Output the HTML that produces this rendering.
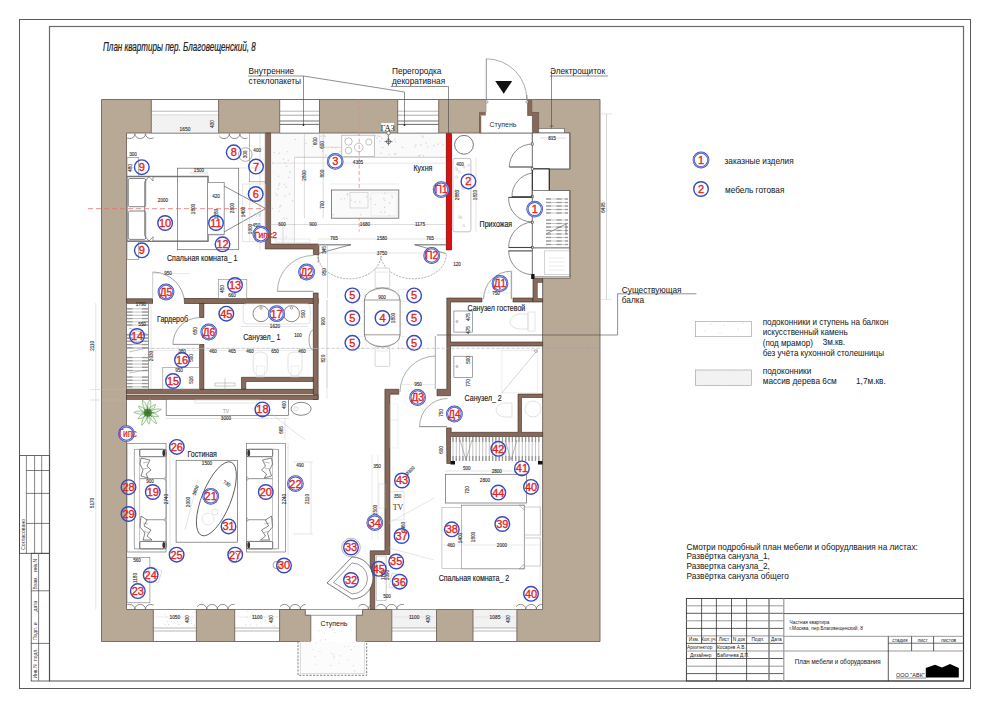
<!DOCTYPE html>
<html><head><meta charset="utf-8"><style>
html,body{margin:0;padding:0;background:#fff;width:990px;height:708px;overflow:hidden}
svg{display:block}
</style></head><body>
<svg width="990" height="708" viewBox="0 0 990 708">
<defs>
<pattern id="hatch" width="2.5" height="2.5" patternUnits="userSpaceOnUse" patternTransform="rotate(45)"><rect width="2.5" height="2.5" fill="#f5f5f5"/><line x1="0" y1="0" x2="0" y2="2.5" stroke="#e2e2e2" stroke-width="0.8"/></pattern>
</defs>
<rect x="19.5" y="19.5" width="951" height="669" fill="none" stroke="#5a5a5a" stroke-width="1" /><rect x="49.5" y="26.5" width="914" height="654.5" fill="none" stroke="#6a6a6a" stroke-width="1.2" /><rect x="19.5" y="455.6" width="30" height="97.7" fill="none" stroke="#444" stroke-width="0.8" /><line x1="26.4" y1="455.6" x2="26.4" y2="553.3" stroke="#555" stroke-width="0.7" /><line x1="34.6" y1="455.6" x2="34.6" y2="553.3" stroke="#555" stroke-width="0.7" /><line x1="41.7" y1="455.6" x2="41.7" y2="553.3" stroke="#555" stroke-width="0.7" /><line x1="26.4" y1="470.5" x2="49.5" y2="470.5" stroke="#444" stroke-width="0.7" /><line x1="26.4" y1="493.4" x2="49.5" y2="493.4" stroke="#444" stroke-width="0.7" /><line x1="26.4" y1="523.4" x2="49.5" y2="523.4" stroke="#444" stroke-width="0.7" /><rect x="31.2" y="553.3" width="18.3" height="127.7" fill="none" stroke="#444" stroke-width="0.8" /><line x1="38.6" y1="553.3" x2="38.6" y2="681" stroke="#777" stroke-width="0.9" /><line x1="31.2" y1="590.8" x2="49.5" y2="590.8" stroke="#444" stroke-width="0.7" /><line x1="31.2" y1="643.4" x2="49.5" y2="643.4" stroke="#444" stroke-width="0.7" /><text x="25" y="550" font-size="5.2" fill="#333" text-anchor="start" font-family="Liberation Sans" transform="rotate(-90 25 550)">Согласовано</text><text x="37" y="678.5" font-size="5" fill="#333" text-anchor="start" font-family="Liberation Sans" transform="rotate(-90 37 678.5)">Инв.N</text><text x="37" y="661" font-size="5" fill="#333" text-anchor="start" font-family="Liberation Sans" transform="rotate(-90 37 661)">подл.</text><text x="37" y="640" font-size="5" fill="#333" text-anchor="start" font-family="Liberation Sans" transform="rotate(-90 37 640)">Подп. и</text><text x="37" y="611.5" font-size="5" fill="#333" text-anchor="start" font-family="Liberation Sans" transform="rotate(-90 37 611.5)">дата</text><text x="37" y="589.5" font-size="5" fill="#333" text-anchor="start" font-family="Liberation Sans" transform="rotate(-90 37 589.5)">Взам.</text><text x="37" y="572" font-size="5" fill="#333" text-anchor="start" font-family="Liberation Sans" transform="rotate(-90 37 572)">инв.N</text><text x="0" y="0" font-size="12.8" fill="#222" text-anchor="start" font-family="Liberation Sans" font-style="italic" stroke="#222" stroke-width="0.25" transform="translate(103 51) scale(0.63 1)">План квартиры пер. Благовещенский, 8</text><rect x="270.6" y="133" width="175.4" height="24.3" fill="#fafafa" stroke="none" stroke-width="0.8" /><rect x="270.6" y="157.3" width="23.9" height="84.7" fill="#fafafa" stroke="none" stroke-width="0.8" /><path d="M101.5,99.5 L600,99.5 L600,641.5 L101.5,641.5 Z M126.5,133 L570.3,133 L570.3,169 L549.5,169 L549.5,190.5 L570.3,190.5 L570.3,278.3 L542.6,278.3 L542.6,609.5 L126.5,609.5 Z" fill="#b8a896" stroke="#6f635a" stroke-width="0.9" fill-rule="evenodd"/><rect x="151.3" y="99.5" width="67.3" height="33.5" fill="#fff" stroke="none" stroke-width="0.8" /><line x1="151.3" y1="111.2" x2="218.6" y2="111.2" stroke="#999" stroke-width="0.7" /><line x1="151.3" y1="115.2" x2="218.6" y2="115.2" stroke="#888" stroke-width="0.7" /><rect x="151.3" y="115.2" width="67.3" height="17.8" fill="url(#hatch)" stroke="none" stroke-width="0.8" /><line x1="151.3" y1="99.5" x2="218.6" y2="99.5" stroke="#666" stroke-width="0.9" /><line x1="151.3" y1="133" x2="218.6" y2="133" stroke="#888" stroke-width="0.7" /><line x1="151.3" y1="99.5" x2="151.3" y2="133" stroke="#6f635a" stroke-width="0.9" /><line x1="218.6" y1="99.5" x2="218.6" y2="133" stroke="#6f635a" stroke-width="0.9" /><text x="185" y="130.5" font-size="4.86" text-anchor="middle" fill="#333" stroke="#333" stroke-width="0.12" font-family="Liberation Sans">1650</text><text x="214" y="124" font-size="4.54" text-anchor="middle" fill="#333" stroke="#333" stroke-width="0.12" font-family="Liberation Sans" transform="rotate(-90 214 124)">430</text><rect x="279.7" y="99.5" width="39.8" height="33.5" fill="#fff" stroke="none" stroke-width="0.8" /><line x1="279.7" y1="111.2" x2="319.5" y2="111.2" stroke="#999" stroke-width="0.7" /><line x1="279.7" y1="115.2" x2="319.5" y2="115.2" stroke="#888" stroke-width="0.7" /><line x1="279.7" y1="121" x2="319.5" y2="121" stroke="#777" stroke-width="1.1" /><line x1="279.7" y1="124.4" x2="319.5" y2="124.4" stroke="#444" stroke-width="0.8" /><line x1="279.7" y1="99.5" x2="319.5" y2="99.5" stroke="#666" stroke-width="0.9" /><line x1="279.7" y1="133" x2="319.5" y2="133" stroke="#888" stroke-width="0.7" /><line x1="279.7" y1="99.5" x2="279.7" y2="133" stroke="#6f635a" stroke-width="0.9" /><line x1="319.5" y1="99.5" x2="319.5" y2="133" stroke="#6f635a" stroke-width="0.9" /><rect x="397.7" y="99.5" width="41" height="33.5" fill="#fff" stroke="none" stroke-width="0.8" /><line x1="397.7" y1="111.2" x2="438.7" y2="111.2" stroke="#999" stroke-width="0.7" /><line x1="397.7" y1="115.2" x2="438.7" y2="115.2" stroke="#888" stroke-width="0.7" /><line x1="397.7" y1="121" x2="438.7" y2="121" stroke="#777" stroke-width="1.1" /><line x1="397.7" y1="124.4" x2="438.7" y2="124.4" stroke="#444" stroke-width="0.8" /><line x1="397.7" y1="99.5" x2="438.7" y2="99.5" stroke="#666" stroke-width="0.9" /><line x1="397.7" y1="133" x2="438.7" y2="133" stroke="#888" stroke-width="0.7" /><line x1="397.7" y1="99.5" x2="397.7" y2="133" stroke="#6f635a" stroke-width="0.9" /><line x1="438.7" y1="99.5" x2="438.7" y2="133" stroke="#6f635a" stroke-width="0.9" /><rect x="153.3" y="609.5" width="43.1" height="32" fill="#fff" stroke="none" stroke-width="0.8" /><circle cx="195.13" cy="612.21" r="0.6" fill="#d5d5d5"/><circle cx="164.99" cy="624.62" r="0.6" fill="#d5d5d5"/><circle cx="191.11" cy="620.06" r="0.6" fill="#d5d5d5"/><circle cx="178.86" cy="624.43" r="0.6" fill="#d5d5d5"/><circle cx="194.4" cy="625.18" r="0.6" fill="#d5d5d5"/><circle cx="187.68" cy="619.18" r="0.6" fill="#d5d5d5"/><circle cx="167.29" cy="621.54" r="0.6" fill="#d5d5d5"/><circle cx="191.3" cy="623.34" r="0.6" fill="#d5d5d5"/><circle cx="188.65" cy="623.85" r="0.6" fill="#d5d5d5"/><circle cx="171.61" cy="621.55" r="0.6" fill="#d5d5d5"/><circle cx="177.63" cy="621.49" r="0.6" fill="#d5d5d5"/><circle cx="164.61" cy="614.46" r="0.6" fill="#d5d5d5"/><circle cx="168.58" cy="624.41" r="0.6" fill="#d5d5d5"/><circle cx="166.49" cy="616.74" r="0.6" fill="#d5d5d5"/><line x1="153.3" y1="609.5" x2="196.4" y2="609.5" stroke="#777" stroke-width="0.7" /><line x1="153.3" y1="628" x2="196.4" y2="628" stroke="#999" stroke-width="0.7" /><line x1="153.3" y1="631" x2="196.4" y2="631" stroke="#999" stroke-width="0.7" /><line x1="153.3" y1="641.5" x2="196.4" y2="641.5" stroke="#666" stroke-width="0.9" /><line x1="153.3" y1="609.5" x2="153.3" y2="641.5" stroke="#6f635a" stroke-width="0.9" /><line x1="196.4" y1="609.5" x2="196.4" y2="641.5" stroke="#6f635a" stroke-width="0.9" /><line x1="155.3" y1="617" x2="194.4" y2="617" stroke="#ccc" stroke-width="0.4" /><text x="174.85" y="618.5" font-size="4.86" text-anchor="middle" fill="#333" stroke="#333" stroke-width="0.12" font-family="Liberation Sans">1050</text><text x="189.4" y="619" font-size="4.54" text-anchor="middle" fill="#333" stroke="#333" stroke-width="0.12" font-family="Liberation Sans" transform="rotate(-90 189.4 619)">430</text><rect x="234.7" y="609.5" width="44.9" height="32" fill="#fff" stroke="none" stroke-width="0.8" /><circle cx="250.37" cy="624.85" r="0.6" fill="#d5d5d5"/><circle cx="272.5" cy="625.77" r="0.6" fill="#d5d5d5"/><circle cx="257.39" cy="618.69" r="0.6" fill="#d5d5d5"/><circle cx="274.54" cy="626.22" r="0.6" fill="#d5d5d5"/><circle cx="277.23" cy="616.55" r="0.6" fill="#d5d5d5"/><circle cx="256.81" cy="625.05" r="0.6" fill="#d5d5d5"/><circle cx="247.07" cy="617.24" r="0.6" fill="#d5d5d5"/><circle cx="265.07" cy="617.22" r="0.6" fill="#d5d5d5"/><circle cx="252.37" cy="615.45" r="0.6" fill="#d5d5d5"/><circle cx="247.89" cy="611.29" r="0.6" fill="#d5d5d5"/><circle cx="251.96" cy="612.78" r="0.6" fill="#d5d5d5"/><circle cx="265.56" cy="620.4" r="0.6" fill="#d5d5d5"/><circle cx="267.83" cy="614.92" r="0.6" fill="#d5d5d5"/><circle cx="245.71" cy="624.65" r="0.6" fill="#d5d5d5"/><line x1="234.7" y1="609.5" x2="279.6" y2="609.5" stroke="#777" stroke-width="0.7" /><line x1="234.7" y1="628" x2="279.6" y2="628" stroke="#999" stroke-width="0.7" /><line x1="234.7" y1="631" x2="279.6" y2="631" stroke="#999" stroke-width="0.7" /><line x1="234.7" y1="641.5" x2="279.6" y2="641.5" stroke="#666" stroke-width="0.9" /><line x1="234.7" y1="609.5" x2="234.7" y2="641.5" stroke="#6f635a" stroke-width="0.9" /><line x1="279.6" y1="609.5" x2="279.6" y2="641.5" stroke="#6f635a" stroke-width="0.9" /><line x1="236.7" y1="617" x2="277.6" y2="617" stroke="#ccc" stroke-width="0.4" /><text x="257.15" y="618.5" font-size="4.86" text-anchor="middle" fill="#333" stroke="#333" stroke-width="0.12" font-family="Liberation Sans">1100</text><text x="272.6" y="619" font-size="4.54" text-anchor="middle" fill="#333" stroke="#333" stroke-width="0.12" font-family="Liberation Sans" transform="rotate(-90 272.6 619)">430</text><rect x="391.8" y="609.5" width="44.7" height="32" fill="#fff" stroke="none" stroke-width="0.8" /><rect x="391.8" y="609.5" width="44.7" height="18.5" fill="url(#hatch)" stroke="none" stroke-width="0.8" /><line x1="391.8" y1="609.5" x2="436.5" y2="609.5" stroke="#777" stroke-width="0.7" /><line x1="391.8" y1="628" x2="436.5" y2="628" stroke="#999" stroke-width="0.7" /><line x1="391.8" y1="631" x2="436.5" y2="631" stroke="#999" stroke-width="0.7" /><line x1="391.8" y1="641.5" x2="436.5" y2="641.5" stroke="#666" stroke-width="0.9" /><line x1="391.8" y1="609.5" x2="391.8" y2="641.5" stroke="#6f635a" stroke-width="0.9" /><line x1="436.5" y1="609.5" x2="436.5" y2="641.5" stroke="#6f635a" stroke-width="0.9" /><line x1="393.8" y1="617" x2="434.5" y2="617" stroke="#ccc" stroke-width="0.4" /><text x="414.15" y="618.5" font-size="4.86" text-anchor="middle" fill="#333" stroke="#333" stroke-width="0.12" font-family="Liberation Sans">1100</text><text x="429.5" y="619" font-size="4.54" text-anchor="middle" fill="#333" stroke="#333" stroke-width="0.12" font-family="Liberation Sans" transform="rotate(-90 429.5 619)">430</text><rect x="473" y="609.5" width="43.9" height="32" fill="#fff" stroke="none" stroke-width="0.8" /><rect x="473" y="609.5" width="43.9" height="18.5" fill="url(#hatch)" stroke="none" stroke-width="0.8" /><line x1="473" y1="609.5" x2="516.9" y2="609.5" stroke="#777" stroke-width="0.7" /><line x1="473" y1="628" x2="516.9" y2="628" stroke="#999" stroke-width="0.7" /><line x1="473" y1="631" x2="516.9" y2="631" stroke="#999" stroke-width="0.7" /><line x1="473" y1="641.5" x2="516.9" y2="641.5" stroke="#666" stroke-width="0.9" /><line x1="473" y1="609.5" x2="473" y2="641.5" stroke="#6f635a" stroke-width="0.9" /><line x1="516.9" y1="609.5" x2="516.9" y2="641.5" stroke="#6f635a" stroke-width="0.9" /><line x1="475" y1="617" x2="514.9" y2="617" stroke="#ccc" stroke-width="0.4" /><text x="494.95" y="618.5" font-size="4.86" text-anchor="middle" fill="#333" stroke="#333" stroke-width="0.12" font-family="Liberation Sans">1085</text><text x="509.9" y="619" font-size="4.54" text-anchor="middle" fill="#333" stroke="#333" stroke-width="0.12" font-family="Liberation Sans" transform="rotate(-90 509.9 619)">430</text><rect x="305.3" y="608.9" width="57.2" height="6.4" fill="#fff" stroke="none" stroke-width="0.8" /><rect x="310.8" y="608.9" width="45.5" height="33.6" fill="#fff" stroke="none" stroke-width="0.8" /><path d="M279.7,609.5 L305.3,609.5 L305.3,615.3 L310.8,615.3 L310.8,641.5" fill="none" stroke="#6f635a" stroke-width="0.9" /><path d="M362.5,609.5 L362.5,615.3 L356.3,615.3 L356.3,641.5" fill="none" stroke="#6f635a" stroke-width="0.9" /><line x1="305.3" y1="609.5" x2="362.5" y2="609.5" stroke="#777" stroke-width="0.7" /><line x1="305.3" y1="615.3" x2="362.5" y2="615.3" stroke="#777" stroke-width="0.7" /><text x="334" y="625.5" font-size="7" text-anchor="middle" fill="#222" font-family="Liberation Sans" >Ступень</text><rect x="298" y="641.5" width="68.7" height="33.8" fill="#fcfcfc" stroke="#666" stroke-width="0.8" stroke-dasharray="2.2,1.3"/><rect x="300.5" y="641.5" width="63.7" height="31.8" fill="none" stroke="#bbb" stroke-width="0.5" /><circle cx="331.45" cy="653.51" r="0.55" fill="#d0d0d0"/><circle cx="351.74" cy="649.56" r="0.55" fill="#d0d0d0"/><circle cx="333.84" cy="654.67" r="0.55" fill="#d0d0d0"/><circle cx="319.94" cy="651.5" r="0.55" fill="#d0d0d0"/><circle cx="339.08" cy="663.31" r="0.55" fill="#d0d0d0"/><circle cx="316.05" cy="642.74" r="0.55" fill="#d0d0d0"/><circle cx="315.9" cy="664.01" r="0.55" fill="#d0d0d0"/><circle cx="341.82" cy="631.76" r="0.55" fill="#d0d0d0"/><circle cx="354.23" cy="670.52" r="0.55" fill="#d0d0d0"/><circle cx="340.12" cy="655.85" r="0.55" fill="#d0d0d0"/><circle cx="318.77" cy="630.63" r="0.55" fill="#d0d0d0"/><circle cx="334.72" cy="632.5" r="0.55" fill="#d0d0d0"/><circle cx="320.18" cy="640.16" r="0.55" fill="#d0d0d0"/><circle cx="313.29" cy="649.49" r="0.55" fill="#d0d0d0"/><circle cx="330.94" cy="665.38" r="0.55" fill="#d0d0d0"/><circle cx="334.32" cy="656.89" r="0.55" fill="#d0d0d0"/><circle cx="333.49" cy="657.82" r="0.55" fill="#d0d0d0"/><circle cx="331.67" cy="641.68" r="0.55" fill="#d0d0d0"/><circle cx="354.9" cy="671.82" r="0.55" fill="#d0d0d0"/><circle cx="348.13" cy="659.73" r="0.55" fill="#d0d0d0"/><circle cx="325.56" cy="639.65" r="0.55" fill="#d0d0d0"/><circle cx="324.43" cy="632.95" r="0.55" fill="#d0d0d0"/><circle cx="344.95" cy="646.82" r="0.55" fill="#d0d0d0"/><circle cx="348.4" cy="646.23" r="0.55" fill="#d0d0d0"/><circle cx="353.2" cy="665.59" r="0.55" fill="#d0d0d0"/><circle cx="312.02" cy="638.81" r="0.55" fill="#d0d0d0"/><circle cx="351.14" cy="649.74" r="0.55" fill="#d0d0d0"/><circle cx="354.16" cy="646.69" r="0.55" fill="#d0d0d0"/><circle cx="315.14" cy="656.44" r="0.55" fill="#d0d0d0"/><circle cx="345.48" cy="641.33" r="0.55" fill="#d0d0d0"/><line x1="310.8" y1="641.5" x2="356.3" y2="641.5" stroke="#fff" stroke-width="1.2" /><rect x="479.5" y="98.9" width="59.1" height="34.4" fill="#fff" stroke="none" stroke-width="0.8" /><path d="M479.5,133 L479.5,111.8 L485.8,111.8 L485.8,99.5" fill="none" stroke="#6f635a" stroke-width="0.9" /><rect x="479.5" y="111.8" width="6.3" height="3.7" fill="#86695a" stroke="none" stroke-width="0.8" /><rect x="479.5" y="115.5" width="1.7" height="17.5" fill="#86695a" stroke="none" stroke-width="0.8" /><rect x="479" y="99.5" width="6.8" height="12.3" fill="#b8a896" stroke="none" stroke-width="0.8" /><line x1="479.5" y1="115.5" x2="479.5" y2="133" stroke="#6f635a" stroke-width="0.8" /><line x1="479" y1="99.5" x2="485.8" y2="99.5" stroke="#6f635a" stroke-width="0.9" /><polygon points="527.6,99.5 532.4,99.5 532.4,111.8 538.6,111.8 538.6,133 536.4,133 536.4,143.3 532.4,143.3 532.4,115.5 527.6,115.5" fill="#86695a" stroke="#3d2c22" stroke-width="0.5" /><rect x="532.4" y="99.5" width="6.6" height="12.3" fill="#b8a896" stroke="none" stroke-width="0.8" /><line x1="532.4" y1="99.5" x2="539" y2="99.5" stroke="#6f635a" stroke-width="0.9" /><line x1="485.8" y1="99.5" x2="527.6" y2="99.5" stroke="#555" stroke-width="0.8" /><line x1="479.5" y1="133" x2="532.4" y2="133" stroke="#666" stroke-width="0.8" /><text x="503" y="127" font-size="7" text-anchor="middle" fill="#333" font-family="Liberation Sans" >Ступень</text><line x1="486.3" y1="99" x2="486.3" y2="58.8" stroke="#666" stroke-width="0.7" /><path d="M486.3,58.8 A40.5,40.5 0 0 1 526.8,99.3" fill="none" stroke="#777" stroke-width="0.6" /><line x1="527" y1="99" x2="527" y2="95" stroke="#666" stroke-width="0.6" /><polygon points="495.2,81 512.2,81 503.7,93.8" fill="#111" stroke="none" stroke-width="0.8" /><circle cx="486.8" cy="102" r="1.2" fill="#fff" stroke="#555" stroke-width="0.5"/><circle cx="527" cy="102" r="1.2" fill="#fff" stroke="#555" stroke-width="0.5"/><rect x="538.8" y="128.5" width="25.5" height="4.5" fill="#fff" stroke="#555" stroke-width="0.6" /><line x1="551.5" y1="70" x2="551.5" y2="128.5" stroke="#444" stroke-width="0.6" /><line x1="549.5" y1="126" x2="553.5" y2="126" stroke="#444" stroke-width="0.6" /><polygon points="265.3,133 270.6,133 270.6,244 318.9,244 318.9,254.7 313.4,254.7 313.4,249 265.3,249" fill="#86695a" stroke="#3d2c22" stroke-width="0.6" /><rect x="446.2" y="133.7" width="5.4" height="116.2" fill="#dd1010" stroke="#5a0000" stroke-width="0.6" /><rect x="126.5" y="298.8" width="26.2" height="4.5" fill="#86695a" stroke="#3d2c22" stroke-width="0.6" /><rect x="184.6" y="298.3" width="133.5" height="5.3" fill="#86695a" stroke="#3d2c22" stroke-width="0.6" /><rect x="313.2" y="293" width="4.9" height="106.3" fill="#86695a" stroke="#3d2c22" stroke-width="0.6" /><rect x="126.5" y="389.2" width="186.7" height="5" fill="#86695a" stroke="#3d2c22" stroke-width="0.6" /><rect x="126.5" y="395" width="191.6" height="4.3" fill="#86695a" stroke="#3d2c22" stroke-width="0.6" /><rect x="126.5" y="394.2" width="186.7" height="0.8" fill="#e8e0d8" stroke="none" stroke-width="0.8" /><rect x="199.7" y="344.4" width="4.2" height="44.8" fill="#86695a" stroke="#3d2c22" stroke-width="0.6" /><polygon points="241.5,377.3 313.2,377.3 313.2,381.5 245.8,381.5 245.8,389.2 241.5,389.2" fill="#86695a" stroke="#3d2c22" stroke-width="0.6" /><rect x="199.7" y="303.3" width="4.2" height="14.3" fill="#86695a" stroke="#3d2c22" stroke-width="0.6" /><polygon points="384.9,389.3 398.8,389.3 398.8,394.2 389.9,394.2 389.9,554.5 374.8,554.5 374.8,609.5 370.2,609.5 370.2,550.8 384.9,550.8" fill="#86695a" stroke="#3d2c22" stroke-width="0.6" /><polygon points="446.8,298 482,298 482,302 450.5,302 450.5,342 542.6,342 542.6,346 450.5,346 450.5,395.7 437,395.7 437,389.3 446.8,389.3" fill="#86695a" stroke="#3d2c22" stroke-width="0.6" /><rect x="513" y="298" width="20" height="4" fill="#86695a" stroke="#3d2c22" stroke-width="0.6" /><polygon points="533,278.3 542.6,278.3 542.6,302 533,302" fill="#86695a" stroke="#3d2c22" stroke-width="0.6" /><rect x="537.5" y="282.7" width="4.9" height="15.5" fill="#fff" stroke="#555" stroke-width="0.4" /><polygon points="446.5,427.9 451.2,427.9 451.2,432.3 518,432.3 518,394 542.6,394 542.6,397.5 521.5,397.5 521.5,432.3 542.6,432.3 542.6,436.5 450.5,436.5 450.5,463.5 446.8,463.5" fill="#86695a" stroke="#3d2c22" stroke-width="0.6" /><clipPath id="cw201"><rect x="127" y="126.2" width="26.6" height="20"/></clipPath><path d="M113.7,133.8 A5.3,4.8 0 0 0 124.3,133.8 M124.3,133.8 A5.3,4.8 0 0 0 134.9,133.8 M134.9,133.8 A5.3,4.8 0 0 0 145.5,133.8 M145.5,133.8 A5.3,4.8 0 0 0 156.1,133.8 " fill="none" stroke="#555" stroke-width="0.65" clip-path="url(#cw201)"/><clipPath id="cw203"><rect x="219.5" y="126.2" width="28" height="20"/></clipPath><path d="M208.1,133.8 A5.3,4.8 0 0 0 218.7,133.8 M218.7,133.8 A5.3,4.8 0 0 0 229.3,133.8 M229.3,133.8 A5.3,4.8 0 0 0 239.9,133.8 M239.9,133.8 A5.3,4.8 0 0 0 250.5,133.8 " fill="none" stroke="#555" stroke-width="0.65" clip-path="url(#cw203)"/><rect x="126.9" y="176.5" width="81.1" height="64.7" fill="#fff" stroke="#777" stroke-width="1.5" /><rect x="128.3" y="178.5" width="17.4" height="28.2" fill="#fff" stroke="#666" stroke-width="0.8" rx="1.5"/><rect x="128.3" y="211" width="17.4" height="28.4" fill="#fff" stroke="#666" stroke-width="0.8" rx="1.5"/><polyline points="149,176.5 144.7,182 144.7,235.7 149,241.2" fill="none" stroke="#555" stroke-width="0.7" /><polygon points="149,176.5 153,176.5 153,181" fill="#fff" stroke="#555" stroke-width="0.6" /><polygon points="149,241.2 153,241.2 153,236.7" fill="#fff" stroke="#555" stroke-width="0.6" /><rect x="177.4" y="168.2" width="61.3" height="81.5" fill="none" stroke="#666" stroke-width="0.7" /><rect x="207.6" y="182.4" width="16.6" height="52.2" fill="#fff" stroke="#888" stroke-width="0.8" /><line x1="207.6" y1="234.6" x2="224.2" y2="234.6" stroke="#999" stroke-width="1.4" /><polyline points="224,186 265.7,208.6 224,232" fill="none" stroke="#555" stroke-width="0.7" /><rect x="127" y="157.7" width="11.8" height="18.8" fill="none" stroke="#777" stroke-width="0.6" /><rect x="127" y="241.2" width="11.8" height="18.3" fill="none" stroke="#777" stroke-width="0.6" /><rect x="249.5" y="133" width="15.8" height="48.8" fill="none" stroke="#888" stroke-width="0.6" /><rect x="242.8" y="184" width="22.5" height="57.8" fill="none" stroke="#ccc" stroke-width="0.5" /><line x1="249.6" y1="184" x2="249.6" y2="241.8" stroke="#ccc" stroke-width="0.5" /><text x="258" y="217" font-size="4.5" text-anchor="middle" fill="#bbb" font-family="Liberation Sans" >TV</text><circle cx="245.3" cy="154.5" r="6.8" fill="none" stroke="#777" stroke-width="0.6"/><line x1="88" y1="208.7" x2="265.3" y2="208.7" stroke="#e07070" stroke-width="0.8" stroke-dasharray="5,3"/><line x1="190" y1="173" x2="208" y2="173" stroke="#9a9a9a" stroke-width="0.4" /><text x="199" y="172" font-size="4.64" text-anchor="middle" fill="#333" stroke="#333" stroke-width="0.12" font-family="Liberation Sans">1500</text><text x="163" y="202" font-size="4.64" text-anchor="middle" fill="#333" stroke="#333" stroke-width="0.12" font-family="Liberation Sans">2000</text><text x="216" y="198" font-size="4.64" text-anchor="middle" fill="#333" stroke="#333" stroke-width="0.12" font-family="Liberation Sans">420</text><text x="195" y="209" font-size="4.64" text-anchor="middle" fill="#333" stroke="#333" stroke-width="0.12" font-family="Liberation Sans" transform="rotate(-90 195 209)">1800</text><text x="218" y="214" font-size="4.64" text-anchor="middle" fill="#333" stroke="#333" stroke-width="0.12" font-family="Liberation Sans" transform="rotate(-90 218 214)">1280</text><text x="234" y="208" font-size="4.64" text-anchor="middle" fill="#333" stroke="#333" stroke-width="0.12" font-family="Liberation Sans" transform="rotate(-90 234 208)">2800</text><text x="245" y="212" font-size="4.64" text-anchor="middle" fill="#333" stroke="#333" stroke-width="0.12" font-family="Liberation Sans" transform="rotate(-90 245 212)">1400</text><text x="133" y="156" font-size="4.64" text-anchor="middle" fill="#333" stroke="#333" stroke-width="0.12" font-family="Liberation Sans">300</text><text x="132" y="168" font-size="4.64" text-anchor="middle" fill="#333" stroke="#333" stroke-width="0.12" font-family="Liberation Sans" transform="rotate(-90 132 168)">480</text><text x="257.2" y="152" font-size="4.64" text-anchor="middle" fill="#333" stroke="#333" stroke-width="0.12" font-family="Liberation Sans">400</text><text x="246.5" y="154.5" font-size="4.64" text-anchor="middle" fill="#333" stroke="#333" stroke-width="0.12" font-family="Liberation Sans" transform="rotate(-90 246.5 154.5)">300</text><text x="256.4" y="226.5" font-size="4.64" text-anchor="middle" fill="#333" stroke="#333" stroke-width="0.12" font-family="Liberation Sans">450</text><text x="252" y="229" font-size="4.64" text-anchor="middle" fill="#333" stroke="#333" stroke-width="0.12" font-family="Liberation Sans" transform="rotate(-90 252 229)">1000</text><line x1="238.7" y1="168" x2="258" y2="168" stroke="#9a9a9a" stroke-width="0.3" /><line x1="260" y1="133" x2="260" y2="250" stroke="#9a9a9a" stroke-width="0.3" /><text x="0" y="0" font-size="8.2" fill="#222" text-anchor="start" font-family="Liberation Sans"  stroke="#222" stroke-width="0.15" transform="translate(167 260.5) scale(0.86 1)">Спальная комната_ 1</text><circle cx="141.8" cy="167.2" r="7.3" fill="none" stroke="#3449c2" stroke-width="1.4"/><text x="141.8" y="171.16" font-size="11" text-anchor="middle" fill="#e52222" stroke="#e52222" stroke-width="0.35" font-family="Liberation Sans">9</text><circle cx="233.7" cy="152.3" r="7.3" fill="none" stroke="#3449c2" stroke-width="1.4"/><text x="233.7" y="156.26" font-size="11" text-anchor="middle" fill="#e52222" stroke="#e52222" stroke-width="0.35" font-family="Liberation Sans">8</text><circle cx="256" cy="166.6" r="7.3" fill="none" stroke="#3449c2" stroke-width="1.4"/><text x="256" y="170.56" font-size="11" text-anchor="middle" fill="#e52222" stroke="#e52222" stroke-width="0.35" font-family="Liberation Sans">7</text><circle cx="255.7" cy="194" r="7.3" fill="none" stroke="#3449c2" stroke-width="1.4"/><text x="255.7" y="197.96" font-size="11" text-anchor="middle" fill="#e52222" stroke="#e52222" stroke-width="0.35" font-family="Liberation Sans">6</text><circle cx="165.1" cy="223" r="7.3" fill="none" stroke="#3449c2" stroke-width="1.4"/><text x="165.1" y="226.96" font-size="11" text-anchor="middle" fill="#e52222" stroke="#e52222" stroke-width="0.35" font-family="Liberation Sans">10</text><circle cx="216" cy="223" r="7.3" fill="none" stroke="#3449c2" stroke-width="1.4"/><text x="216" y="226.96" font-size="11" text-anchor="middle" fill="#e52222" stroke="#e52222" stroke-width="0.35" font-family="Liberation Sans">11</text><circle cx="222.5" cy="244.3" r="7.3" fill="none" stroke="#3449c2" stroke-width="1.4"/><text x="222.5" y="248.26" font-size="11" text-anchor="middle" fill="#e52222" stroke="#e52222" stroke-width="0.35" font-family="Liberation Sans">12</text><circle cx="141.8" cy="250.3" r="7.3" fill="none" stroke="#3449c2" stroke-width="1.4"/><text x="141.8" y="254.26" font-size="11" text-anchor="middle" fill="#e52222" stroke="#e52222" stroke-width="0.35" font-family="Liberation Sans">9</text><circle cx="260.9" cy="234.2" r="7.3" fill="#fff" stroke="#3449c2" stroke-width="2.2"/><circle cx="260.9" cy="234.2" r="7.3" fill="none" stroke="#fff" stroke-width="0.5"/><text x="260.9" y="238.16" font-size="11" text-anchor="middle" fill="#e52222" stroke="#e52222" stroke-width="0.35" font-family="Liberation Sans"></text><text x="254.4" y="237.6" font-size="8.8" fill="#e52222" stroke="#e52222" stroke-width="0.3" font-family="Liberation Sans" transform="translate(254.4 237.6) scale(0.97 1) translate(-254.4 -237.6)">Гипс2</text><circle cx="312.93" cy="146.43" r="0.8" fill="#d8d8d8"/><circle cx="335.63" cy="147.68" r="0.8" fill="#d8d8d8"/><circle cx="379.62" cy="136.38" r="0.8" fill="#d8d8d8"/><circle cx="274.26" cy="152.59" r="0.8" fill="#d8d8d8"/><circle cx="316.61" cy="139.92" r="0.8" fill="#d8d8d8"/><circle cx="443.25" cy="144.88" r="0.8" fill="#d8d8d8"/><circle cx="415.87" cy="145" r="0.8" fill="#d8d8d8"/><circle cx="381.92" cy="138.16" r="0.8" fill="#d8d8d8"/><circle cx="381.2" cy="153.23" r="0.8" fill="#d8d8d8"/><circle cx="361.99" cy="150.57" r="0.8" fill="#d8d8d8"/><circle cx="387.48" cy="136.34" r="0.8" fill="#d8d8d8"/><circle cx="402.42" cy="147.41" r="0.8" fill="#d8d8d8"/><circle cx="323.82" cy="135.65" r="0.8" fill="#d8d8d8"/><circle cx="420.87" cy="144.93" r="0.8" fill="#d8d8d8"/><circle cx="395.64" cy="153.46" r="0.8" fill="#d8d8d8"/><circle cx="394.83" cy="154.34" r="0.8" fill="#d8d8d8"/><circle cx="339.93" cy="151.82" r="0.8" fill="#d8d8d8"/><circle cx="348.47" cy="154.65" r="0.8" fill="#d8d8d8"/><circle cx="423.17" cy="137.05" r="0.8" fill="#d8d8d8"/><circle cx="295.39" cy="139.56" r="0.8" fill="#d8d8d8"/><circle cx="438.06" cy="144.16" r="0.8" fill="#d8d8d8"/><circle cx="379.78" cy="141.32" r="0.8" fill="#d8d8d8"/><circle cx="359.25" cy="143.1" r="0.8" fill="#d8d8d8"/><circle cx="332.36" cy="147.29" r="0.8" fill="#d8d8d8"/><circle cx="372.49" cy="153.99" r="0.8" fill="#d8d8d8"/><circle cx="389.3" cy="154.51" r="0.8" fill="#d8d8d8"/><circle cx="419.3" cy="155.81" r="0.8" fill="#d8d8d8"/><circle cx="387.46" cy="138.43" r="0.8" fill="#d8d8d8"/><circle cx="420.03" cy="155.26" r="0.8" fill="#d8d8d8"/><circle cx="427.61" cy="146.95" r="0.8" fill="#d8d8d8"/><circle cx="394.78" cy="139.43" r="0.8" fill="#d8d8d8"/><circle cx="415.04" cy="147.04" r="0.8" fill="#d8d8d8"/><circle cx="321.01" cy="136.33" r="0.8" fill="#d8d8d8"/><circle cx="418.88" cy="155.79" r="0.8" fill="#d8d8d8"/><circle cx="287.23" cy="151.81" r="0.8" fill="#d8d8d8"/><circle cx="342.6" cy="138.17" r="0.8" fill="#d8d8d8"/><circle cx="322.55" cy="151.14" r="0.8" fill="#d8d8d8"/><circle cx="422.12" cy="135.93" r="0.8" fill="#d8d8d8"/><circle cx="377.7" cy="135.94" r="0.8" fill="#d8d8d8"/><circle cx="395.57" cy="141.95" r="0.8" fill="#d8d8d8"/><circle cx="423.52" cy="155.59" r="0.8" fill="#d8d8d8"/><circle cx="358.93" cy="155.97" r="0.8" fill="#d8d8d8"/><circle cx="325.26" cy="136.62" r="0.8" fill="#d8d8d8"/><circle cx="375.16" cy="135.66" r="0.8" fill="#d8d8d8"/><circle cx="305.95" cy="143.57" r="0.8" fill="#d8d8d8"/><circle cx="377" cy="138.28" r="0.8" fill="#d8d8d8"/><circle cx="279.3" cy="153.22" r="0.8" fill="#d8d8d8"/><circle cx="325.98" cy="155.13" r="0.8" fill="#d8d8d8"/><circle cx="426.23" cy="142.93" r="0.8" fill="#d8d8d8"/><circle cx="351.19" cy="145.92" r="0.8" fill="#d8d8d8"/><circle cx="382.75" cy="147.51" r="0.8" fill="#d8d8d8"/><circle cx="368.19" cy="148.02" r="0.8" fill="#d8d8d8"/><circle cx="433.79" cy="145.65" r="0.8" fill="#d8d8d8"/><circle cx="346.16" cy="150.13" r="0.8" fill="#d8d8d8"/><circle cx="312.87" cy="141.32" r="0.8" fill="#d8d8d8"/><circle cx="292.53" cy="200.73" r="0.8" fill="#d8d8d8"/><circle cx="283.52" cy="158.94" r="0.8" fill="#d8d8d8"/><circle cx="280.72" cy="205.56" r="0.8" fill="#d8d8d8"/><circle cx="272.42" cy="208.5" r="0.8" fill="#d8d8d8"/><circle cx="285.28" cy="162.93" r="0.8" fill="#d8d8d8"/><circle cx="285.17" cy="196.23" r="0.8" fill="#d8d8d8"/><circle cx="286.26" cy="186.91" r="0.8" fill="#d8d8d8"/><circle cx="286.85" cy="218.52" r="0.8" fill="#d8d8d8"/><circle cx="272.47" cy="162.97" r="0.8" fill="#d8d8d8"/><circle cx="286.2" cy="236.99" r="0.8" fill="#d8d8d8"/><circle cx="277.27" cy="195.42" r="0.8" fill="#d8d8d8"/><circle cx="284.45" cy="184.24" r="0.8" fill="#d8d8d8"/><circle cx="279.64" cy="183.64" r="0.8" fill="#d8d8d8"/><circle cx="279.75" cy="206.84" r="0.8" fill="#d8d8d8"/><circle cx="278.31" cy="188.93" r="0.8" fill="#d8d8d8"/><circle cx="288.22" cy="160.21" r="0.8" fill="#d8d8d8"/><circle cx="283.95" cy="218.28" r="0.8" fill="#d8d8d8"/><circle cx="278.51" cy="176.25" r="0.8" fill="#d8d8d8"/><circle cx="288.88" cy="177.57" r="0.8" fill="#d8d8d8"/><circle cx="275.94" cy="193.69" r="0.8" fill="#d8d8d8"/><circle cx="286.66" cy="166.35" r="0.8" fill="#d8d8d8"/><circle cx="278.76" cy="185.37" r="0.8" fill="#d8d8d8"/><circle cx="289.5" cy="193.95" r="0.8" fill="#d8d8d8"/><circle cx="289.97" cy="171.88" r="0.8" fill="#d8d8d8"/><circle cx="279.07" cy="211.32" r="0.8" fill="#d8d8d8"/><line x1="294.5" y1="157.3" x2="446" y2="157.3" stroke="#aaa" stroke-width="0.6" /><line x1="294.5" y1="157.3" x2="294.5" y2="242" stroke="#bbb" stroke-width="0.5" /><line x1="270.6" y1="163.2" x2="446" y2="163.2" stroke="#ccc" stroke-width="0.5" /><line x1="319.5" y1="133" x2="319.5" y2="147.3" stroke="#bbb" stroke-width="0.5" /><line x1="319.5" y1="147.3" x2="342.6" y2="147.3" stroke="#bbb" stroke-width="0.5" /><rect x="341.8" y="135.2" width="32.7" height="21.2" fill="#fff" stroke="#aaa" stroke-width="0.7" /><circle cx="348.5" cy="141.5" r="3.7" fill="none" stroke="#999" stroke-width="0.6"/><circle cx="348.5" cy="150.5" r="3.3" fill="none" stroke="#999" stroke-width="0.6"/><circle cx="358.8" cy="147.5" r="4.3" fill="none" stroke="#999" stroke-width="0.6"/><circle cx="368.8" cy="142" r="3.1" fill="none" stroke="#999" stroke-width="0.6"/><line x1="359.2" y1="99.5" x2="359.2" y2="231.6" stroke="#e88" stroke-width="0.8" stroke-dasharray="4,2.5"/><rect x="381.2" y="123" width="12.8" height="8" fill="#fff" stroke="#ddd" stroke-width="0.3" /><text x="387.6" y="130.5" font-size="8.5" text-anchor="middle" fill="#111" font-family="Liberation Serif" >ГАЗ</text><circle cx="388.5" cy="133" r="1.8" fill="#fff" stroke="#333" stroke-width="0.6"/><line x1="388.5" y1="135" x2="388.5" y2="138.5" stroke="#333" stroke-width="0.5" /><circle cx="388.5" cy="141.6" r="2.1" fill="#fff" stroke="#333" stroke-width="0.6"/><line x1="384.5" y1="141.6" x2="392.5" y2="141.6" stroke="#333" stroke-width="0.6" /><line x1="388.5" y1="137.8" x2="388.5" y2="145.4" stroke="#333" stroke-width="0.6" /><rect x="331.4" y="190" width="67.4" height="28.2" fill="#fafafa" stroke="#666" stroke-width="0.8" /><circle cx="389.63" cy="202.83" r="0.8" fill="#d8d8d8"/><circle cx="347.4" cy="194.9" r="0.8" fill="#d8d8d8"/><circle cx="366.9" cy="196.58" r="0.8" fill="#d8d8d8"/><circle cx="384.63" cy="212.12" r="0.8" fill="#d8d8d8"/><circle cx="344.75" cy="198.69" r="0.8" fill="#d8d8d8"/><circle cx="384.66" cy="207.41" r="0.8" fill="#d8d8d8"/><circle cx="384.6" cy="200.29" r="0.8" fill="#d8d8d8"/><circle cx="341.3" cy="199.01" r="0.8" fill="#d8d8d8"/><circle cx="383.81" cy="198.51" r="0.8" fill="#d8d8d8"/><circle cx="355.17" cy="202.01" r="0.8" fill="#d8d8d8"/><circle cx="359.87" cy="201.83" r="0.8" fill="#d8d8d8"/><circle cx="391.92" cy="195.74" r="0.8" fill="#d8d8d8"/><circle cx="333.3" cy="214.64" r="0.8" fill="#d8d8d8"/><circle cx="389.32" cy="215.69" r="0.8" fill="#d8d8d8"/><circle cx="360.8" cy="214.8" r="0.8" fill="#d8d8d8"/><circle cx="392.35" cy="197.33" r="0.8" fill="#d8d8d8"/><circle cx="380.71" cy="212.08" r="0.8" fill="#d8d8d8"/><circle cx="375.43" cy="204.46" r="0.8" fill="#d8d8d8"/><circle cx="351.5" cy="200.19" r="0.8" fill="#d8d8d8"/><circle cx="347.56" cy="193.63" r="0.8" fill="#d8d8d8"/><circle cx="370.68" cy="198.89" r="0.8" fill="#d8d8d8"/><circle cx="384.85" cy="193.08" r="0.8" fill="#d8d8d8"/><rect x="350" y="192.5" width="18" height="15.5" fill="none" stroke="#bbb" stroke-width="0.5" /><rect x="371" y="193" width="26" height="23" fill="none" stroke="#ddd" stroke-width="0.5" /><line x1="330" y1="184" x2="398.8" y2="184" stroke="#ccc" stroke-width="0.4" /><line x1="304.4" y1="133" x2="304.4" y2="218.5" stroke="#aaa" stroke-width="0.4" /><line x1="323.2" y1="133" x2="323.2" y2="218.5" stroke="#aaa" stroke-width="0.4" /><text x="317" y="141.4" font-size="4.64" text-anchor="middle" fill="#333" stroke="#333" stroke-width="0.12" font-family="Liberation Sans" transform="rotate(-90 317 141.4)">600</text><text x="324.4" y="145" font-size="4.64" text-anchor="middle" fill="#333" stroke="#333" stroke-width="0.12" font-family="Liberation Sans" transform="rotate(-90 324.4 145)">600</text><text x="305.6" y="175.5" font-size="4.64" text-anchor="middle" fill="#333" stroke="#333" stroke-width="0.12" font-family="Liberation Sans" transform="rotate(-90 305.6 175.5)">2800</text><text x="324.4" y="173.6" font-size="4.64" text-anchor="middle" fill="#333" stroke="#333" stroke-width="0.12" font-family="Liberation Sans" transform="rotate(-90 324.4 173.6)">800</text><text x="324.4" y="205" font-size="4.64" text-anchor="middle" fill="#333" stroke="#333" stroke-width="0.12" font-family="Liberation Sans" transform="rotate(-90 324.4 205)">700</text><text x="358" y="164" font-size="4.64" text-anchor="middle" fill="#333" stroke="#333" stroke-width="0.12" font-family="Liberation Sans">4305</text><line x1="270.6" y1="224.5" x2="446" y2="224.5" stroke="#aaa" stroke-width="0.4" /><text x="282" y="226" font-size="4.64" text-anchor="middle" fill="#333" stroke="#333" stroke-width="0.12" font-family="Liberation Sans">600</text><text x="313" y="226" font-size="4.64" text-anchor="middle" fill="#333" stroke="#333" stroke-width="0.12" font-family="Liberation Sans">900</text><text x="365" y="226" font-size="4.64" text-anchor="middle" fill="#333" stroke="#333" stroke-width="0.12" font-family="Liberation Sans">1680</text><text x="420" y="226" font-size="4.64" text-anchor="middle" fill="#333" stroke="#333" stroke-width="0.12" font-family="Liberation Sans">1175</text><line x1="283" y1="227" x2="283" y2="244" stroke="#aaa" stroke-width="0.4" /><rect x="276" y="239" width="34" height="3.5" fill="none" stroke="#ccc" stroke-width="0.4" /><line x1="317.8" y1="244.7" x2="350.9" y2="244.7" stroke="#999" stroke-width="1.4" /><line x1="317.8" y1="253.6" x2="350.9" y2="244.7" stroke="#444" stroke-width="0.6" /><line x1="414.7" y1="244.7" x2="446.2" y2="244.7" stroke="#999" stroke-width="1.4" /><line x1="414.7" y1="244.7" x2="446.2" y2="253.6" stroke="#444" stroke-width="0.6" /><line x1="318" y1="239" x2="446" y2="239" stroke="#bbb" stroke-width="0.4" /><text x="334" y="240" font-size="4.64" text-anchor="middle" fill="#333" stroke="#333" stroke-width="0.12" font-family="Liberation Sans">765</text><text x="382" y="240" font-size="4.64" text-anchor="middle" fill="#333" stroke="#333" stroke-width="0.12" font-family="Liberation Sans">1580</text><text x="430" y="240" font-size="4.64" text-anchor="middle" fill="#333" stroke="#333" stroke-width="0.12" font-family="Liberation Sans">765</text><line x1="318" y1="253" x2="446" y2="253" stroke="#bbb" stroke-width="0.4" /><text x="382" y="254.5" font-size="4.64" text-anchor="middle" fill="#333" stroke="#333" stroke-width="0.12" font-family="Liberation Sans">3750</text><path d="M318,253.6 A31.5,24 0 0 0 381,256" fill="none" stroke="#777" stroke-width="0.6" stroke-dasharray="2,1.2"/><path d="M381,256 A32.6,24 0 0 0 446.2,253.6" fill="none" stroke="#777" stroke-width="0.6" stroke-dasharray="2,1.2"/><line x1="327.5" y1="245" x2="327.5" y2="298" stroke="#aaa" stroke-width="0.4" /><text x="326" y="250" font-size="4.64" text-anchor="middle" fill="#333" stroke="#333" stroke-width="0.12" font-family="Liberation Sans" transform="rotate(-90 326 250)">345</text><text x="326" y="272" font-size="4.64" text-anchor="middle" fill="#333" stroke="#333" stroke-width="0.12" font-family="Liberation Sans" transform="rotate(-90 326 272)">950</text><text x="457" y="266" font-size="4.64" text-anchor="middle" fill="#333" stroke="#333" stroke-width="0.12" font-family="Liberation Sans">120</text><text x="0" y="0" font-size="8.2" fill="#222" text-anchor="start" font-family="Liberation Sans"  stroke="#222" stroke-width="0.15" transform="translate(413.5 170.5) scale(0.86 1)">Кухня</text><circle cx="335.2" cy="161.4" r="7.3" fill="#fff" stroke="#3449c2" stroke-width="2.2"/><circle cx="335.2" cy="161.4" r="7.3" fill="none" stroke="#fff" stroke-width="0.5"/><text x="335.2" y="165.36" font-size="11" text-anchor="middle" fill="#e52222" stroke="#e52222" stroke-width="0.35" font-family="Liberation Sans">3</text><circle cx="441.1" cy="189.6" r="7.3" fill="#fff" stroke="#3449c2" stroke-width="2.2"/><circle cx="441.1" cy="189.6" r="7.3" fill="none" stroke="#fff" stroke-width="0.5"/><text x="441.1" y="193.2" font-size="10" text-anchor="middle" fill="#e52222" stroke="#e52222" stroke-width="0.35" font-family="Liberation Sans">П1</text><circle cx="431.7" cy="255.5" r="7.3" fill="#fff" stroke="#3449c2" stroke-width="2.2"/><circle cx="431.7" cy="255.5" r="7.3" fill="none" stroke="#fff" stroke-width="0.5"/><text x="431.7" y="259.1" font-size="10" text-anchor="middle" fill="#e52222" stroke="#e52222" stroke-width="0.35" font-family="Liberation Sans">П2</text><circle cx="306.6" cy="272" r="7.3" fill="#fff" stroke="#3449c2" stroke-width="2.2"/><circle cx="306.6" cy="272" r="7.3" fill="none" stroke="#fff" stroke-width="0.5"/><text x="306.6" y="275.6" font-size="10" text-anchor="middle" fill="#e52222" stroke="#e52222" stroke-width="0.35" font-family="Liberation Sans">Д2</text><line x1="318.2" y1="263" x2="318.2" y2="254.7" stroke="#444" stroke-width="0.5" /><path d="M313.5,255.4 A36,36 0 0 0 277.4,291.4" fill="none" stroke="#777" stroke-width="0.6" /><line x1="277.4" y1="291.4" x2="313.5" y2="291.4" stroke="#aaa" stroke-width="1.4" /><circle cx="464" cy="144.8" r="9.4" fill="#fff" stroke="#777" stroke-width="1"/><rect x="452.9" y="158.4" width="18" height="73.4" fill="none" stroke="#999" stroke-width="0.6" rx="2"/><polygon points="459.53,170.61 458.23,173.11 460.83,173.11" fill="none" stroke="#bbb" stroke-width="0.4" /><polygon points="464.11,165.35 462.81,167.85 465.41,167.85" fill="none" stroke="#bbb" stroke-width="0.4" /><polygon points="462.5,185 461.2,187.5 463.8,187.5" fill="none" stroke="#bbb" stroke-width="0.4" /><polygon points="455.81,194.5 454.51,197 457.11,197" fill="none" stroke="#bbb" stroke-width="0.4" /><polygon points="455.52,189.55 454.22,192.05 456.82,192.05" fill="none" stroke="#bbb" stroke-width="0.4" /><polygon points="455.98,166.58 454.68,169.08 457.28,169.08" fill="none" stroke="#bbb" stroke-width="0.4" /><polygon points="460.94,215.9 459.64,218.4 462.24,218.4" fill="none" stroke="#bbb" stroke-width="0.4" /><polygon points="456.73,175.46 455.43,177.96 458.03,177.96" fill="none" stroke="#bbb" stroke-width="0.4" /><polygon points="463.78,224 462.48,226.5 465.08,226.5" fill="none" stroke="#bbb" stroke-width="0.4" /><polygon points="463.08,187.08 461.78,189.58 464.38,189.58" fill="none" stroke="#bbb" stroke-width="0.4" /><polygon points="468.67,163.62 467.37,166.12 469.97,166.12" fill="none" stroke="#bbb" stroke-width="0.4" /><polygon points="467.02,179.9 465.72,182.4 468.32,182.4" fill="none" stroke="#bbb" stroke-width="0.4" /><polygon points="457.02,168.39 455.72,170.89 458.32,170.89" fill="none" stroke="#bbb" stroke-width="0.4" /><polygon points="459.32,215.18 458.02,217.68 460.62,217.68" fill="none" stroke="#bbb" stroke-width="0.4" /><text x="460" y="166" font-size="4.64" text-anchor="middle" fill="#333" stroke="#333" stroke-width="0.12" font-family="Liberation Sans">400</text><text x="459" y="195" font-size="4.64" text-anchor="middle" fill="#333" stroke="#333" stroke-width="0.12" font-family="Liberation Sans" transform="rotate(-90 459 195)">2880</text><text x="477" y="195" font-size="4.64" text-anchor="middle" fill="#333" stroke="#333" stroke-width="0.12" font-family="Liberation Sans" transform="rotate(-90 477 195)">1820</text><line x1="476" y1="158" x2="476" y2="232" stroke="#bbb" stroke-width="0.4" /><text x="0" y="0" font-size="8.2" fill="#222" text-anchor="start" font-family="Liberation Sans"  stroke="#222" stroke-width="0.15" transform="translate(479.6 226.5) scale(0.86 1)">Прихожая</text><line x1="532.3" y1="133" x2="532.3" y2="279" stroke="#555" stroke-width="0.6" /><rect x="532.3" y="133" width="37.3" height="35.9" fill="#fff" stroke="#555" stroke-width="0.7" /><line x1="540" y1="138" x2="566" y2="138" stroke="#aaa" stroke-width="0.4" /><text x="552" y="139.5" font-size="4.64" text-anchor="middle" fill="#333" stroke="#333" stroke-width="0.12" font-family="Liberation Sans">815</text><rect x="532.3" y="168.9" width="16.9" height="27.8" fill="#fff" stroke="#111" stroke-width="1.0" /><rect x="532.3" y="190.6" width="37.3" height="57.4" fill="#fff" stroke="#555" stroke-width="0.7" /><line x1="546" y1="199" x2="568" y2="199" stroke="#888" stroke-width="0.5" /><line x1="546" y1="199" x2="551" y2="199" stroke="#999" stroke-width="1.3" /><line x1="556.5" y1="199" x2="561.5" y2="199" stroke="#999" stroke-width="1.3" /><line x1="565" y1="199" x2="568" y2="199" stroke="#999" stroke-width="1.3" /><line x1="546" y1="202.5" x2="568" y2="202.5" stroke="#888" stroke-width="0.5" /><line x1="546" y1="202.5" x2="551" y2="202.5" stroke="#999" stroke-width="1.3" /><line x1="556.5" y1="202.5" x2="561.5" y2="202.5" stroke="#999" stroke-width="1.3" /><line x1="565" y1="202.5" x2="568" y2="202.5" stroke="#999" stroke-width="1.3" /><line x1="546" y1="206" x2="568" y2="206" stroke="#888" stroke-width="0.5" /><line x1="546" y1="206" x2="551" y2="206" stroke="#999" stroke-width="1.3" /><line x1="556.5" y1="206" x2="561.5" y2="206" stroke="#999" stroke-width="1.3" /><line x1="565" y1="206" x2="568" y2="206" stroke="#999" stroke-width="1.3" /><line x1="546" y1="209.5" x2="568" y2="209.5" stroke="#888" stroke-width="0.5" /><line x1="546" y1="209.5" x2="551" y2="209.5" stroke="#999" stroke-width="1.3" /><line x1="556.5" y1="209.5" x2="561.5" y2="209.5" stroke="#999" stroke-width="1.3" /><line x1="565" y1="209.5" x2="568" y2="209.5" stroke="#999" stroke-width="1.3" /><line x1="546" y1="213" x2="568" y2="213" stroke="#888" stroke-width="0.5" /><line x1="546" y1="213" x2="551" y2="213" stroke="#999" stroke-width="1.3" /><line x1="556.5" y1="213" x2="561.5" y2="213" stroke="#999" stroke-width="1.3" /><line x1="565" y1="213" x2="568" y2="213" stroke="#999" stroke-width="1.3" /><line x1="546" y1="220" x2="568" y2="220" stroke="#888" stroke-width="0.5" /><line x1="546" y1="220" x2="551" y2="220" stroke="#999" stroke-width="1.3" /><line x1="556.5" y1="220" x2="561.5" y2="220" stroke="#999" stroke-width="1.3" /><line x1="565" y1="220" x2="568" y2="220" stroke="#999" stroke-width="1.3" /><line x1="546" y1="223.5" x2="568" y2="223.5" stroke="#888" stroke-width="0.5" /><line x1="546" y1="223.5" x2="551" y2="223.5" stroke="#999" stroke-width="1.3" /><line x1="556.5" y1="223.5" x2="561.5" y2="223.5" stroke="#999" stroke-width="1.3" /><line x1="565" y1="223.5" x2="568" y2="223.5" stroke="#999" stroke-width="1.3" /><line x1="546" y1="227" x2="568" y2="227" stroke="#888" stroke-width="0.5" /><line x1="546" y1="227" x2="551" y2="227" stroke="#999" stroke-width="1.3" /><line x1="556.5" y1="227" x2="561.5" y2="227" stroke="#999" stroke-width="1.3" /><line x1="565" y1="227" x2="568" y2="227" stroke="#999" stroke-width="1.3" /><line x1="546" y1="230.5" x2="568" y2="230.5" stroke="#888" stroke-width="0.5" /><line x1="546" y1="230.5" x2="551" y2="230.5" stroke="#999" stroke-width="1.3" /><line x1="556.5" y1="230.5" x2="561.5" y2="230.5" stroke="#999" stroke-width="1.3" /><line x1="565" y1="230.5" x2="568" y2="230.5" stroke="#999" stroke-width="1.3" /><line x1="546" y1="234" x2="568" y2="234" stroke="#888" stroke-width="0.5" /><line x1="546" y1="234" x2="551" y2="234" stroke="#999" stroke-width="1.3" /><line x1="556.5" y1="234" x2="561.5" y2="234" stroke="#999" stroke-width="1.3" /><line x1="565" y1="234" x2="568" y2="234" stroke="#999" stroke-width="1.3" /><line x1="546" y1="237.5" x2="568" y2="237.5" stroke="#888" stroke-width="0.5" /><line x1="546" y1="237.5" x2="551" y2="237.5" stroke="#999" stroke-width="1.3" /><line x1="556.5" y1="237.5" x2="561.5" y2="237.5" stroke="#999" stroke-width="1.3" /><line x1="565" y1="237.5" x2="568" y2="237.5" stroke="#999" stroke-width="1.3" /><line x1="546" y1="241" x2="568" y2="241" stroke="#888" stroke-width="0.5" /><line x1="546" y1="241" x2="551" y2="241" stroke="#999" stroke-width="1.3" /><line x1="556.5" y1="241" x2="561.5" y2="241" stroke="#999" stroke-width="1.3" /><line x1="565" y1="241" x2="568" y2="241" stroke="#999" stroke-width="1.3" /><line x1="546" y1="244.5" x2="568" y2="244.5" stroke="#888" stroke-width="0.5" /><line x1="546" y1="244.5" x2="551" y2="244.5" stroke="#999" stroke-width="1.3" /><line x1="556.5" y1="244.5" x2="561.5" y2="244.5" stroke="#999" stroke-width="1.3" /><line x1="565" y1="244.5" x2="568" y2="244.5" stroke="#999" stroke-width="1.3" /><polyline points="546,234 566,224 566,234" fill="none" stroke="#777" stroke-width="0.8" /><rect x="532.3" y="248" width="37.3" height="28.9" fill="#fff" stroke="#555" stroke-width="0.7" /><rect x="544.3" y="250.9" width="25.3" height="23.7" fill="none" stroke="#aaa" stroke-width="0.5" /><line x1="549" y1="258" x2="565" y2="258" stroke="#ddd" stroke-width="0.6" /><line x1="549" y1="262" x2="565" y2="262" stroke="#ddd" stroke-width="0.6" /><line x1="549" y1="266" x2="565" y2="266" stroke="#ddd" stroke-width="0.6" /><line x1="549" y1="270" x2="565" y2="270" stroke="#ddd" stroke-width="0.6" /><rect x="531.2" y="142.9" width="2.2" height="2.2" fill="#fff" stroke="#333" stroke-width="0.5" /><rect x="531.2" y="167.8" width="2.2" height="2.2" fill="#fff" stroke="#333" stroke-width="0.5" /><rect x="531.2" y="195.6" width="2.2" height="2.2" fill="#fff" stroke="#333" stroke-width="0.5" /><rect x="531.2" y="221.1" width="2.2" height="2.2" fill="#fff" stroke="#333" stroke-width="0.5" /><rect x="531.2" y="246.4" width="2.2" height="2.2" fill="#fff" stroke="#333" stroke-width="0.5" /><rect x="531.2" y="274" width="3.3" height="5" fill="#111" stroke="none" stroke-width="0.8" /><path d="M532.3,144 A23,23 0 0 0 509.3,167" fill="none" stroke="#444" stroke-width="0.6" /><line x1="509.3" y1="167" x2="532.3" y2="167" stroke="#444" stroke-width="1.1" /><path d="M532.3,173 A23.7,23.7 0 0 0 512,196.7" fill="none" stroke="#444" stroke-width="0.6" /><line x1="512" y1="196.7" x2="532.3" y2="196.7" stroke="#444" stroke-width="1.1" /><path d="M508.6,197.4 A23.7,23.7 0 0 0 532.3,222" fill="none" stroke="#444" stroke-width="0.6" /><line x1="508.6" y1="197.4" x2="532.3" y2="197.4" stroke="#444" stroke-width="1.1" /><path d="M532.3,222 A25.5,25.5 0 0 0 508.6,247.5" fill="none" stroke="#444" stroke-width="0.6" /><line x1="508.6" y1="247.5" x2="532.3" y2="247.5" stroke="#444" stroke-width="1.1" /><path d="M508.6,250.9 A24,24 0 0 0 532.3,274.6" fill="none" stroke="#444" stroke-width="0.6" /><line x1="508.6" y1="250.9" x2="532.3" y2="250.9" stroke="#444" stroke-width="1.1" /><circle cx="468.4" cy="181.4" r="7.3" fill="none" stroke="#3449c2" stroke-width="1.4"/><text x="468.4" y="185.36" font-size="11" text-anchor="middle" fill="#e52222" stroke="#e52222" stroke-width="0.35" font-family="Liberation Sans">2</text><circle cx="534.7" cy="209.1" r="7.3" fill="#fff" stroke="#3449c2" stroke-width="2.2"/><circle cx="534.7" cy="209.1" r="7.3" fill="none" stroke="#fff" stroke-width="0.5"/><text x="534.7" y="213.06" font-size="11" text-anchor="middle" fill="#e52222" stroke="#e52222" stroke-width="0.35" font-family="Liberation Sans">1</text><line x1="606.5" y1="113.9" x2="606.5" y2="299.6" stroke="#aaa" stroke-width="0.5" /><line x1="600" y1="113.9" x2="612" y2="113.9" stroke="#bbb" stroke-width="0.4" /><line x1="600" y1="299.6" x2="612" y2="299.6" stroke="#bbb" stroke-width="0.4" /><text x="605" y="207.6" font-size="4.64" text-anchor="middle" fill="#333" stroke="#333" stroke-width="0.12" font-family="Liberation Sans" transform="rotate(-90 605 207.6)">6495</text><path d="M483.6,299 A27.8,27.8 0 0 1 511.4,271.2" fill="none" stroke="#666" stroke-width="0.6" /><line x1="511.4" y1="271.2" x2="511.4" y2="299" stroke="#aaa" stroke-width="1.4" /><line x1="480" y1="293" x2="512" y2="293" stroke="#ccc" stroke-width="0.4" /><text x="496" y="294.5" font-size="4.64" text-anchor="middle" fill="#333" stroke="#333" stroke-width="0.12" font-family="Liberation Sans">750</text><circle cx="500" cy="283.5" r="7.3" fill="#fff" stroke="#3449c2" stroke-width="2.2"/><circle cx="500" cy="283.5" r="7.3" fill="none" stroke="#fff" stroke-width="0.5"/><text x="500" y="287.1" font-size="10" text-anchor="middle" fill="#e52222" stroke="#e52222" stroke-width="0.35" font-family="Liberation Sans">Д1</text><rect x="375.1" y="268.1" width="14.6" height="19.4" fill="#fff" stroke="#bbb" stroke-width="0.6" rx="1"/><line x1="376.6" y1="272.1" x2="388.2" y2="272.1" stroke="#ccc" stroke-width="0.5" /><rect x="375.1" y="347" width="14.6" height="19.4" fill="#fff" stroke="#bbb" stroke-width="0.6" rx="1"/><line x1="376.6" y1="351" x2="388.2" y2="351" stroke="#ccc" stroke-width="0.5" /><rect x="357" y="289.4" width="9" height="12" fill="none" stroke="#ddd" stroke-width="0.5" /><rect x="398.5" y="289.4" width="9" height="12" fill="none" stroke="#ddd" stroke-width="0.5" /><rect x="357" y="312" width="9" height="12" fill="none" stroke="#ddd" stroke-width="0.5" /><rect x="398.5" y="312" width="9" height="12" fill="none" stroke="#ddd" stroke-width="0.5" /><rect x="357" y="336.8" width="9" height="12" fill="none" stroke="#ddd" stroke-width="0.5" /><rect x="398.5" y="336.8" width="9" height="12" fill="none" stroke="#ddd" stroke-width="0.5" /><path d="M364.4,300 L364.4,334.8 A17.85,12 0 0 0 400.1,334.8 L400.1,300 A17.85,12 0 0 0 364.4,300 Z" fill="#fff" stroke="#555" stroke-width="0.7" /><line x1="364.4" y1="300" x2="400.1" y2="300" stroke="#555" stroke-width="0.6" /><line x1="364.4" y1="334.8" x2="400.1" y2="334.8" stroke="#555" stroke-width="0.6" /><path d="M364.4,296 A24,22 0 0 1 400.1,296" fill="none" stroke="#aaa" stroke-width="0.5" /><path d="M364.4,339 A24,22 0 0 0 400.1,339" fill="none" stroke="#aaa" stroke-width="0.5" /><text x="382" y="299" font-size="4.64" text-anchor="middle" fill="#333" stroke="#333" stroke-width="0.12" font-family="Liberation Sans">900</text><text x="395" y="318" font-size="4.64" text-anchor="middle" fill="#333" stroke="#333" stroke-width="0.12" font-family="Liberation Sans" transform="rotate(-90 395 318)">1800</text><circle cx="352.4" cy="295.4" r="7.3" fill="none" stroke="#3449c2" stroke-width="1.4"/><text x="352.4" y="299.36" font-size="11" text-anchor="middle" fill="#e52222" stroke="#e52222" stroke-width="0.35" font-family="Liberation Sans">5</text><circle cx="414.1" cy="295.4" r="7.3" fill="none" stroke="#3449c2" stroke-width="1.4"/><text x="414.1" y="299.36" font-size="11" text-anchor="middle" fill="#e52222" stroke="#e52222" stroke-width="0.35" font-family="Liberation Sans">5</text><circle cx="352.4" cy="318" r="7.3" fill="none" stroke="#3449c2" stroke-width="1.4"/><text x="352.4" y="321.96" font-size="11" text-anchor="middle" fill="#e52222" stroke="#e52222" stroke-width="0.35" font-family="Liberation Sans">5</text><circle cx="414.1" cy="318" r="7.3" fill="none" stroke="#3449c2" stroke-width="1.4"/><text x="414.1" y="321.96" font-size="11" text-anchor="middle" fill="#e52222" stroke="#e52222" stroke-width="0.35" font-family="Liberation Sans">5</text><circle cx="352.4" cy="342.8" r="7.3" fill="none" stroke="#3449c2" stroke-width="1.4"/><text x="352.4" y="346.76" font-size="11" text-anchor="middle" fill="#e52222" stroke="#e52222" stroke-width="0.35" font-family="Liberation Sans">5</text><circle cx="414.1" cy="342.8" r="7.3" fill="none" stroke="#3449c2" stroke-width="1.4"/><text x="414.1" y="346.76" font-size="11" text-anchor="middle" fill="#e52222" stroke="#e52222" stroke-width="0.35" font-family="Liberation Sans">5</text><circle cx="382.5" cy="318" r="7.3" fill="none" stroke="#3449c2" stroke-width="1.4"/><text x="382.5" y="321.96" font-size="11" text-anchor="middle" fill="#e52222" stroke="#e52222" stroke-width="0.35" font-family="Liberation Sans">4</text><line x1="327" y1="300" x2="327" y2="388" stroke="#bbb" stroke-width="0.4" /><line x1="126.5" y1="348.3" x2="600" y2="348.3" stroke="#99a" stroke-width="0.5" stroke-dasharray="3,2"/><line x1="126.5" y1="348.5" x2="318" y2="348.5" stroke="#ccc" stroke-width="0.4" /><line x1="152.7" y1="298.5" x2="152.7" y2="272" stroke="#ccc" stroke-width="1.0" /><path d="M152.7,272 A31.9,31.9 0 0 1 184.6,303.8" fill="none" stroke="#666" stroke-width="0.6" /><line x1="152" y1="273.5" x2="190" y2="273.5" stroke="#ccc" stroke-width="0.4" /><text x="168" y="275" font-size="4.64" text-anchor="middle" fill="#333" stroke="#333" stroke-width="0.12" font-family="Liberation Sans">950</text><circle cx="166" cy="292" r="7.3" fill="#fff" stroke="#3449c2" stroke-width="2.2"/><circle cx="166" cy="292" r="7.3" fill="none" stroke="#fff" stroke-width="0.5"/><text x="166" y="295.6" font-size="10" text-anchor="middle" fill="#e52222" stroke="#e52222" stroke-width="0.35" font-family="Liberation Sans">Д5</text><rect x="218.5" y="279.4" width="28.3" height="18.9" fill="none" stroke="#888" stroke-width="0.6" /><text x="224" y="289" font-size="4.64" text-anchor="middle" fill="#333" stroke="#333" stroke-width="0.12" font-family="Liberation Sans" transform="rotate(-90 224 289)">450</text><text x="232" y="296.5" font-size="4.64" text-anchor="middle" fill="#333" stroke="#333" stroke-width="0.12" font-family="Liberation Sans">660</text><circle cx="235" cy="285" r="7.3" fill="none" stroke="#3449c2" stroke-width="1.4"/><text x="235" y="288.96" font-size="11" text-anchor="middle" fill="#e52222" stroke="#e52222" stroke-width="0.35" font-family="Liberation Sans">13</text><rect x="126.5" y="303.6" width="22" height="85.6" fill="none" stroke="#777" stroke-width="0.7" /><line x1="127" y1="308.8" x2="148.5" y2="308.8" stroke="#888" stroke-width="0.5" /><line x1="127" y1="308.8" x2="132.5" y2="308.8" stroke="#999" stroke-width="1.3" /><line x1="142" y1="308.8" x2="148.5" y2="308.8" stroke="#999" stroke-width="1.3" /><line x1="127" y1="312.05" x2="148.5" y2="312.05" stroke="#888" stroke-width="0.5" /><line x1="127" y1="312.05" x2="132.5" y2="312.05" stroke="#999" stroke-width="1.3" /><line x1="142" y1="312.05" x2="148.5" y2="312.05" stroke="#999" stroke-width="1.3" /><line x1="127" y1="315.3" x2="148.5" y2="315.3" stroke="#888" stroke-width="0.5" /><line x1="127" y1="315.3" x2="132.5" y2="315.3" stroke="#999" stroke-width="1.3" /><line x1="142" y1="315.3" x2="148.5" y2="315.3" stroke="#999" stroke-width="1.3" /><line x1="127" y1="318.55" x2="148.5" y2="318.55" stroke="#888" stroke-width="0.5" /><line x1="127" y1="318.55" x2="132.5" y2="318.55" stroke="#999" stroke-width="1.3" /><line x1="142" y1="318.55" x2="148.5" y2="318.55" stroke="#999" stroke-width="1.3" /><line x1="127" y1="321.8" x2="148.5" y2="321.8" stroke="#888" stroke-width="0.5" /><line x1="127" y1="321.8" x2="132.5" y2="321.8" stroke="#999" stroke-width="1.3" /><line x1="142" y1="321.8" x2="148.5" y2="321.8" stroke="#999" stroke-width="1.3" /><line x1="127" y1="325.05" x2="148.5" y2="325.05" stroke="#888" stroke-width="0.5" /><line x1="127" y1="325.05" x2="132.5" y2="325.05" stroke="#999" stroke-width="1.3" /><line x1="142" y1="325.05" x2="148.5" y2="325.05" stroke="#999" stroke-width="1.3" /><line x1="127" y1="334.8" x2="148.5" y2="334.8" stroke="#888" stroke-width="0.5" /><line x1="127" y1="334.8" x2="132.5" y2="334.8" stroke="#999" stroke-width="1.3" /><line x1="142" y1="334.8" x2="148.5" y2="334.8" stroke="#999" stroke-width="1.3" /><line x1="127" y1="338.05" x2="148.5" y2="338.05" stroke="#888" stroke-width="0.5" /><line x1="127" y1="338.05" x2="132.5" y2="338.05" stroke="#999" stroke-width="1.3" /><line x1="142" y1="338.05" x2="148.5" y2="338.05" stroke="#999" stroke-width="1.3" /><line x1="127" y1="341.3" x2="148.5" y2="341.3" stroke="#888" stroke-width="0.5" /><line x1="127" y1="341.3" x2="132.5" y2="341.3" stroke="#999" stroke-width="1.3" /><line x1="142" y1="341.3" x2="148.5" y2="341.3" stroke="#999" stroke-width="1.3" /><line x1="127" y1="344.55" x2="148.5" y2="344.55" stroke="#888" stroke-width="0.5" /><line x1="127" y1="344.55" x2="132.5" y2="344.55" stroke="#999" stroke-width="1.3" /><line x1="142" y1="344.55" x2="148.5" y2="344.55" stroke="#999" stroke-width="1.3" /><line x1="127" y1="347.8" x2="148.5" y2="347.8" stroke="#888" stroke-width="0.5" /><line x1="127" y1="347.8" x2="132.5" y2="347.8" stroke="#999" stroke-width="1.3" /><line x1="142" y1="347.8" x2="148.5" y2="347.8" stroke="#999" stroke-width="1.3" /><line x1="127" y1="357.55" x2="148.5" y2="357.55" stroke="#888" stroke-width="0.5" /><line x1="127" y1="357.55" x2="132.5" y2="357.55" stroke="#999" stroke-width="1.3" /><line x1="142" y1="357.55" x2="148.5" y2="357.55" stroke="#999" stroke-width="1.3" /><line x1="127" y1="360.8" x2="148.5" y2="360.8" stroke="#888" stroke-width="0.5" /><line x1="127" y1="360.8" x2="132.5" y2="360.8" stroke="#999" stroke-width="1.3" /><line x1="142" y1="360.8" x2="148.5" y2="360.8" stroke="#999" stroke-width="1.3" /><line x1="127" y1="364.05" x2="148.5" y2="364.05" stroke="#888" stroke-width="0.5" /><line x1="127" y1="364.05" x2="132.5" y2="364.05" stroke="#999" stroke-width="1.3" /><line x1="142" y1="364.05" x2="148.5" y2="364.05" stroke="#999" stroke-width="1.3" /><line x1="127" y1="367.3" x2="148.5" y2="367.3" stroke="#888" stroke-width="0.5" /><line x1="127" y1="367.3" x2="132.5" y2="367.3" stroke="#999" stroke-width="1.3" /><line x1="142" y1="367.3" x2="148.5" y2="367.3" stroke="#999" stroke-width="1.3" /><line x1="127" y1="370.55" x2="148.5" y2="370.55" stroke="#888" stroke-width="0.5" /><line x1="127" y1="370.55" x2="132.5" y2="370.55" stroke="#999" stroke-width="1.3" /><line x1="142" y1="370.55" x2="148.5" y2="370.55" stroke="#999" stroke-width="1.3" /><line x1="127" y1="377.05" x2="148.5" y2="377.05" stroke="#888" stroke-width="0.5" /><line x1="127" y1="377.05" x2="132.5" y2="377.05" stroke="#999" stroke-width="1.3" /><line x1="142" y1="377.05" x2="148.5" y2="377.05" stroke="#999" stroke-width="1.3" /><line x1="127" y1="380.3" x2="148.5" y2="380.3" stroke="#888" stroke-width="0.5" /><line x1="127" y1="380.3" x2="132.5" y2="380.3" stroke="#999" stroke-width="1.3" /><line x1="142" y1="380.3" x2="148.5" y2="380.3" stroke="#999" stroke-width="1.3" /><line x1="127" y1="383.55" x2="148.5" y2="383.55" stroke="#888" stroke-width="0.5" /><line x1="127" y1="383.55" x2="132.5" y2="383.55" stroke="#999" stroke-width="1.3" /><line x1="142" y1="383.55" x2="148.5" y2="383.55" stroke="#999" stroke-width="1.3" /><line x1="127" y1="386.8" x2="148.5" y2="386.8" stroke="#888" stroke-width="0.5" /><line x1="127" y1="386.8" x2="132.5" y2="386.8" stroke="#999" stroke-width="1.3" /><line x1="142" y1="386.8" x2="148.5" y2="386.8" stroke="#999" stroke-width="1.3" /><polyline points="129,328 147,334" fill="none" stroke="#999" stroke-width="0.6" /><polyline points="129,352 147,348" fill="none" stroke="#999" stroke-width="0.6" /><polyline points="129,373 147,370" fill="none" stroke="#999" stroke-width="0.6" /><line x1="151" y1="303.6" x2="151" y2="389" stroke="#bbb" stroke-width="0.4" /><text x="141" y="306" font-size="4.64" text-anchor="middle" fill="#333" stroke="#333" stroke-width="0.12" font-family="Liberation Sans">1790</text><text x="142" y="326" font-size="4.64" text-anchor="middle" fill="#333" stroke="#333" stroke-width="0.12" font-family="Liberation Sans">550</text><text x="153" y="356" font-size="4.64" text-anchor="middle" fill="#333" stroke="#333" stroke-width="0.12" font-family="Liberation Sans" transform="rotate(-90 153 356)">2030</text><text x="0" y="0" font-size="8.2" fill="#222" text-anchor="start" font-family="Liberation Sans"  stroke="#222" stroke-width="0.15" transform="translate(157 321.5) scale(0.86 1)">Гардероб</text><circle cx="137" cy="336" r="7.3" fill="none" stroke="#3449c2" stroke-width="1.4"/><text x="137" y="339.96" font-size="11" text-anchor="middle" fill="#e52222" stroke="#e52222" stroke-width="0.35" font-family="Liberation Sans">14</text><path d="M199.7,317.6 A26.8,26.8 0 0 0 172.9,344.4" fill="none" stroke="#666" stroke-width="0.6" /><line x1="172.9" y1="344.4" x2="199.7" y2="344.4" stroke="#999" stroke-width="1.1" /><text x="197" y="331" font-size="4.64" text-anchor="middle" fill="#333" stroke="#333" stroke-width="0.12" font-family="Liberation Sans" transform="rotate(-90 197 331)">650</text><circle cx="208.8" cy="332" r="7.3" fill="#fff" stroke="#3449c2" stroke-width="2.2"/><circle cx="208.8" cy="332" r="7.3" fill="none" stroke="#fff" stroke-width="0.5"/><text x="208.8" y="335.6" font-size="10" text-anchor="middle" fill="#e52222" stroke="#e52222" stroke-width="0.35" font-family="Liberation Sans">Д6</text><rect x="162.8" y="367.5" width="36.9" height="21.7" fill="none" stroke="#888" stroke-width="0.6" /><text x="179" y="372" font-size="4.64" text-anchor="middle" fill="#333" stroke="#333" stroke-width="0.12" font-family="Liberation Sans">950</text><text x="193" y="380" font-size="4.64" text-anchor="middle" fill="#333" stroke="#333" stroke-width="0.12" font-family="Liberation Sans" transform="rotate(-90 193 380)">516</text><text x="193" y="358" font-size="4.64" text-anchor="middle" fill="#333" stroke="#333" stroke-width="0.12" font-family="Liberation Sans" transform="rotate(-90 193 358)">500</text><line x1="150" y1="350.5" x2="200" y2="350.5" stroke="#ccc" stroke-width="0.4" /><text x="182" y="352.5" font-size="4.64" text-anchor="middle" fill="#333" stroke="#333" stroke-width="0.12" font-family="Liberation Sans">380</text><circle cx="182" cy="360" r="7.3" fill="none" stroke="#3449c2" stroke-width="1.4"/><text x="182" y="363.96" font-size="11" text-anchor="middle" fill="#e52222" stroke="#e52222" stroke-width="0.35" font-family="Liberation Sans">16</text><circle cx="173" cy="381" r="7.3" fill="none" stroke="#3449c2" stroke-width="1.4"/><text x="173" y="384.96" font-size="11" text-anchor="middle" fill="#e52222" stroke="#e52222" stroke-width="0.35" font-family="Liberation Sans">15</text><rect x="243.2" y="303.6" width="67" height="20.3" fill="none" stroke="#ccc" stroke-width="0.6" rx="3"/><circle cx="261" cy="313.7" r="8" fill="#fff" stroke="#555" stroke-width="0.7"/><circle cx="261" cy="308" r="1.2" fill="none" stroke="#555" stroke-width="0.5"/><circle cx="291.5" cy="313.7" r="8" fill="#fff" stroke="#555" stroke-width="0.7"/><circle cx="291.5" cy="308" r="1.2" fill="none" stroke="#555" stroke-width="0.5"/><path d="M253.2,356 L253.2,368 A7,8 0 0 0 267.2,368 L267.2,356 A7,4 0 0 0 253.2,356 Z" fill="none" stroke="#ccc" stroke-width="0.6" /><rect x="256.2" y="366" width="8" height="11" fill="none" stroke="#ddd" stroke-width="0.5" /><path d="M288,356 L288,368 A7,8 0 0 0 302,368 L302,356 A7,4 0 0 0 288,356 Z" fill="none" stroke="#ccc" stroke-width="0.6" /><rect x="291" y="366" width="8" height="11" fill="none" stroke="#ddd" stroke-width="0.5" /><rect x="215" y="383" width="20" height="3" fill="none" stroke="#aaa" stroke-width="0.6" /><line x1="225" y1="378" x2="225" y2="390" stroke="#888" stroke-width="0.4" /><line x1="241" y1="326.5" x2="308" y2="326.5" stroke="#bbb" stroke-width="0.4" /><text x="275" y="327.5" font-size="4.64" text-anchor="middle" fill="#333" stroke="#333" stroke-width="0.12" font-family="Liberation Sans">1620</text><text x="305" y="314" font-size="4.64" text-anchor="middle" fill="#333" stroke="#333" stroke-width="0.12" font-family="Liberation Sans" transform="rotate(-90 305 314)">500</text><text x="298" y="337" font-size="4.64" text-anchor="middle" fill="#333" stroke="#333" stroke-width="0.12" font-family="Liberation Sans">100</text><path d="M313,330 A4,10 0 0 0 313,350" fill="none" stroke="#666" stroke-width="0.6" /><line x1="205" y1="350.5" x2="313" y2="350.5" stroke="#ccc" stroke-width="0.4" /><text x="213" y="352.5" font-size="4.64" text-anchor="middle" fill="#333" stroke="#333" stroke-width="0.12" font-family="Liberation Sans">460</text><text x="232" y="352.5" font-size="4.64" text-anchor="middle" fill="#333" stroke="#333" stroke-width="0.12" font-family="Liberation Sans">465</text><text x="250" y="352.5" font-size="4.64" text-anchor="middle" fill="#333" stroke="#333" stroke-width="0.12" font-family="Liberation Sans">460</text><text x="275" y="352.5" font-size="4.64" text-anchor="middle" fill="#333" stroke="#333" stroke-width="0.12" font-family="Liberation Sans">650</text><text x="302" y="352.5" font-size="4.64" text-anchor="middle" fill="#333" stroke="#333" stroke-width="0.12" font-family="Liberation Sans">460</text><text x="0" y="0" font-size="8.2" fill="#222" text-anchor="start" font-family="Liberation Sans"  stroke="#222" stroke-width="0.15" transform="translate(243.2 339.6) scale(0.86 1)">Санузел_ 1</text><circle cx="226.3" cy="313.7" r="7.3" fill="none" stroke="#3449c2" stroke-width="1.4"/><text x="226.3" y="317.66" font-size="11" text-anchor="middle" fill="#e52222" stroke="#e52222" stroke-width="0.35" font-family="Liberation Sans">45</text><circle cx="276.6" cy="313.7" r="7.3" fill="#fff" stroke="#3449c2" stroke-width="2.2"/><circle cx="276.6" cy="313.7" r="7.3" fill="none" stroke="#fff" stroke-width="0.5"/><text x="276.6" y="317.66" font-size="11" text-anchor="middle" fill="#e52222" stroke="#e52222" stroke-width="0.35" font-family="Liberation Sans">17</text><line x1="327" y1="300" x2="327" y2="399" stroke="#bbb" stroke-width="0.4" /><text x="325.5" y="321.4" font-size="4.64" text-anchor="middle" fill="#333" stroke="#333" stroke-width="0.12" font-family="Liberation Sans" transform="rotate(-90 325.5 321.4)">990</text><text x="325.5" y="358.6" font-size="4.64" text-anchor="middle" fill="#333" stroke="#333" stroke-width="0.12" font-family="Liberation Sans" transform="rotate(-90 325.5 358.6)">820</text><rect x="453.9" y="311" width="18.4" height="21.1" fill="#fff" stroke="#666" stroke-width="0.6" /><circle cx="457" cy="321.5" r="1" fill="none" stroke="#666" stroke-width="0.5"/><text x="470" y="317" font-size="4.64" text-anchor="middle" fill="#333" stroke="#333" stroke-width="0.12" font-family="Liberation Sans" transform="rotate(-90 470 317)">475</text><text x="470" y="330" font-size="4.64" text-anchor="middle" fill="#333" stroke="#333" stroke-width="0.12" font-family="Liberation Sans" transform="rotate(-90 470 330)">475</text><path d="M528,314 L520,314 A10,7.5 0 0 0 520,329 L528,329 Z" fill="none" stroke="#ccc" stroke-width="0.6" /><rect x="528" y="312" width="7" height="19" fill="none" stroke="#ccc" stroke-width="0.5" /><text x="0" y="0" font-size="8.2" fill="#222" text-anchor="start" font-family="Liberation Sans"  stroke="#222" stroke-width="0.15" transform="translate(467.5 310.5) scale(0.86 1)">Санузел гостевой</text><rect x="453.9" y="356.2" width="18.4" height="21.1" fill="#fff" stroke="#666" stroke-width="0.6" /><circle cx="457" cy="366.5" r="1" fill="none" stroke="#666" stroke-width="0.5"/><text x="470" y="360" font-size="4.64" text-anchor="middle" fill="#333" stroke="#333" stroke-width="0.12" font-family="Liberation Sans" transform="rotate(-90 470 360)">500</text><text x="470" y="383" font-size="4.64" text-anchor="middle" fill="#333" stroke="#333" stroke-width="0.12" font-family="Liberation Sans" transform="rotate(-90 470 383)">770</text><rect x="501.9" y="350.5" width="35.3" height="42.4" fill="none" stroke="#ddd" stroke-width="0.5" /><line x1="501.9" y1="392.9" x2="537.2" y2="350.5" stroke="#aaa" stroke-width="0.5" /><circle cx="536" cy="351" r="1.5" fill="none" stroke="#777" stroke-width="0.5"/><path d="M512,403 L505,403 A9,7 0 0 0 505,417 L512,417 Z" fill="none" stroke="#ccc" stroke-width="0.6" /><circle cx="533" cy="409" r="8" fill="none" stroke="#ccc" stroke-width="0.6"/><text x="0" y="0" font-size="8.2" fill="#222" text-anchor="start" font-family="Liberation Sans"  stroke="#222" stroke-width="0.15" transform="translate(464.6 400.7) scale(0.86 1)">Санузел_ 2</text><line x1="435.4" y1="336" x2="435.4" y2="389.3" stroke="#bbb" stroke-width="1.3" /><path d="M400,392 A36,36 0 0 1 435.4,356" fill="none" stroke="#777" stroke-width="0.6" /><line x1="400" y1="384.5" x2="436" y2="384.5" stroke="#ccc" stroke-width="0.4" /><text x="418" y="386" font-size="4.64" text-anchor="middle" fill="#333" stroke="#333" stroke-width="0.12" font-family="Liberation Sans">950</text><circle cx="417.6" cy="397.5" r="7.3" fill="#fff" stroke="#3449c2" stroke-width="2.2"/><circle cx="417.6" cy="397.5" r="7.3" fill="none" stroke="#fff" stroke-width="0.5"/><text x="417.6" y="401.1" font-size="10" text-anchor="middle" fill="#e52222" stroke="#e52222" stroke-width="0.35" font-family="Liberation Sans">Д3</text><line x1="419.6" y1="426.6" x2="447" y2="426.6" stroke="#999" stroke-width="1.2" /><path d="M419.6,426.6 A28,28 0 0 1 447.5,398.5" fill="none" stroke="#777" stroke-width="0.6" /><text x="443" y="413" font-size="4.64" text-anchor="middle" fill="#333" stroke="#333" stroke-width="0.12" font-family="Liberation Sans" transform="rotate(-90 443 413)">750</text><circle cx="454.4" cy="414" r="7.3" fill="#fff" stroke="#3449c2" stroke-width="2.2"/><circle cx="454.4" cy="414" r="7.3" fill="none" stroke="#fff" stroke-width="0.5"/><text x="454.4" y="417.6" font-size="10" text-anchor="middle" fill="#e52222" stroke="#e52222" stroke-width="0.35" font-family="Liberation Sans">Д4</text><line x1="453" y1="437" x2="453" y2="461" stroke="#888" stroke-width="0.5" /><line x1="453" y1="437" x2="453" y2="442" stroke="#999" stroke-width="1.3" /><line x1="453" y1="456" x2="453" y2="461" stroke="#999" stroke-width="1.3" /><line x1="456.3" y1="437" x2="456.3" y2="461" stroke="#888" stroke-width="0.5" /><line x1="456.3" y1="437" x2="456.3" y2="442" stroke="#999" stroke-width="1.3" /><line x1="456.3" y1="456" x2="456.3" y2="461" stroke="#999" stroke-width="1.3" /><line x1="459.6" y1="437" x2="459.6" y2="461" stroke="#888" stroke-width="0.5" /><line x1="459.6" y1="437" x2="459.6" y2="442" stroke="#999" stroke-width="1.3" /><line x1="459.6" y1="456" x2="459.6" y2="461" stroke="#999" stroke-width="1.3" /><line x1="462.9" y1="437" x2="462.9" y2="461" stroke="#888" stroke-width="0.5" /><line x1="462.9" y1="437" x2="462.9" y2="442" stroke="#999" stroke-width="1.3" /><line x1="462.9" y1="456" x2="462.9" y2="461" stroke="#999" stroke-width="1.3" /><line x1="466.2" y1="437" x2="466.2" y2="461" stroke="#888" stroke-width="0.5" /><line x1="466.2" y1="437" x2="466.2" y2="442" stroke="#999" stroke-width="1.3" /><line x1="466.2" y1="456" x2="466.2" y2="461" stroke="#999" stroke-width="1.3" /><line x1="469.5" y1="437" x2="469.5" y2="461" stroke="#888" stroke-width="0.5" /><line x1="469.5" y1="437" x2="469.5" y2="442" stroke="#999" stroke-width="1.3" /><line x1="469.5" y1="456" x2="469.5" y2="461" stroke="#999" stroke-width="1.3" /><line x1="472.8" y1="437" x2="472.8" y2="461" stroke="#888" stroke-width="0.5" /><line x1="472.8" y1="437" x2="472.8" y2="442" stroke="#999" stroke-width="1.3" /><line x1="472.8" y1="456" x2="472.8" y2="461" stroke="#999" stroke-width="1.3" /><line x1="476.1" y1="437" x2="476.1" y2="461" stroke="#888" stroke-width="0.5" /><line x1="476.1" y1="437" x2="476.1" y2="442" stroke="#999" stroke-width="1.3" /><line x1="476.1" y1="456" x2="476.1" y2="461" stroke="#999" stroke-width="1.3" /><line x1="479.4" y1="437" x2="479.4" y2="461" stroke="#888" stroke-width="0.5" /><line x1="479.4" y1="437" x2="479.4" y2="442" stroke="#999" stroke-width="1.3" /><line x1="479.4" y1="456" x2="479.4" y2="461" stroke="#999" stroke-width="1.3" /><line x1="482.7" y1="437" x2="482.7" y2="461" stroke="#888" stroke-width="0.5" /><line x1="482.7" y1="437" x2="482.7" y2="442" stroke="#999" stroke-width="1.3" /><line x1="482.7" y1="456" x2="482.7" y2="461" stroke="#999" stroke-width="1.3" /><line x1="486" y1="437" x2="486" y2="461" stroke="#888" stroke-width="0.5" /><line x1="486" y1="437" x2="486" y2="442" stroke="#999" stroke-width="1.3" /><line x1="486" y1="456" x2="486" y2="461" stroke="#999" stroke-width="1.3" /><line x1="489.3" y1="437" x2="489.3" y2="461" stroke="#888" stroke-width="0.5" /><line x1="489.3" y1="437" x2="489.3" y2="442" stroke="#999" stroke-width="1.3" /><line x1="489.3" y1="456" x2="489.3" y2="461" stroke="#999" stroke-width="1.3" /><line x1="492.6" y1="437" x2="492.6" y2="461" stroke="#888" stroke-width="0.5" /><line x1="492.6" y1="437" x2="492.6" y2="442" stroke="#999" stroke-width="1.3" /><line x1="492.6" y1="456" x2="492.6" y2="461" stroke="#999" stroke-width="1.3" /><line x1="495.9" y1="437" x2="495.9" y2="461" stroke="#888" stroke-width="0.5" /><line x1="495.9" y1="437" x2="495.9" y2="442" stroke="#999" stroke-width="1.3" /><line x1="495.9" y1="456" x2="495.9" y2="461" stroke="#999" stroke-width="1.3" /><line x1="499.2" y1="437" x2="499.2" y2="461" stroke="#888" stroke-width="0.5" /><line x1="499.2" y1="437" x2="499.2" y2="442" stroke="#999" stroke-width="1.3" /><line x1="499.2" y1="456" x2="499.2" y2="461" stroke="#999" stroke-width="1.3" /><line x1="502.5" y1="437" x2="502.5" y2="461" stroke="#888" stroke-width="0.5" /><line x1="502.5" y1="437" x2="502.5" y2="442" stroke="#999" stroke-width="1.3" /><line x1="502.5" y1="456" x2="502.5" y2="461" stroke="#999" stroke-width="1.3" /><line x1="505.8" y1="437" x2="505.8" y2="461" stroke="#888" stroke-width="0.5" /><line x1="505.8" y1="437" x2="505.8" y2="442" stroke="#999" stroke-width="1.3" /><line x1="505.8" y1="456" x2="505.8" y2="461" stroke="#999" stroke-width="1.3" /><line x1="509.1" y1="437" x2="509.1" y2="461" stroke="#888" stroke-width="0.5" /><line x1="509.1" y1="437" x2="509.1" y2="442" stroke="#999" stroke-width="1.3" /><line x1="509.1" y1="456" x2="509.1" y2="461" stroke="#999" stroke-width="1.3" /><line x1="512.4" y1="437" x2="512.4" y2="461" stroke="#888" stroke-width="0.5" /><line x1="512.4" y1="437" x2="512.4" y2="442" stroke="#999" stroke-width="1.3" /><line x1="512.4" y1="456" x2="512.4" y2="461" stroke="#999" stroke-width="1.3" /><line x1="515.7" y1="437" x2="515.7" y2="461" stroke="#888" stroke-width="0.5" /><line x1="515.7" y1="437" x2="515.7" y2="442" stroke="#999" stroke-width="1.3" /><line x1="515.7" y1="456" x2="515.7" y2="461" stroke="#999" stroke-width="1.3" /><line x1="519" y1="437" x2="519" y2="461" stroke="#888" stroke-width="0.5" /><line x1="519" y1="437" x2="519" y2="442" stroke="#999" stroke-width="1.3" /><line x1="519" y1="456" x2="519" y2="461" stroke="#999" stroke-width="1.3" /><line x1="522.3" y1="437" x2="522.3" y2="461" stroke="#888" stroke-width="0.5" /><line x1="522.3" y1="437" x2="522.3" y2="442" stroke="#999" stroke-width="1.3" /><line x1="522.3" y1="456" x2="522.3" y2="461" stroke="#999" stroke-width="1.3" /><line x1="525.6" y1="437" x2="525.6" y2="461" stroke="#888" stroke-width="0.5" /><line x1="525.6" y1="437" x2="525.6" y2="442" stroke="#999" stroke-width="1.3" /><line x1="525.6" y1="456" x2="525.6" y2="461" stroke="#999" stroke-width="1.3" /><line x1="528.9" y1="437" x2="528.9" y2="461" stroke="#888" stroke-width="0.5" /><line x1="528.9" y1="437" x2="528.9" y2="442" stroke="#999" stroke-width="1.3" /><line x1="528.9" y1="456" x2="528.9" y2="461" stroke="#999" stroke-width="1.3" /><line x1="532.2" y1="437" x2="532.2" y2="461" stroke="#888" stroke-width="0.5" /><line x1="532.2" y1="437" x2="532.2" y2="442" stroke="#999" stroke-width="1.3" /><line x1="532.2" y1="456" x2="532.2" y2="461" stroke="#999" stroke-width="1.3" /><line x1="535.5" y1="437" x2="535.5" y2="461" stroke="#888" stroke-width="0.5" /><line x1="535.5" y1="437" x2="535.5" y2="442" stroke="#999" stroke-width="1.3" /><line x1="535.5" y1="456" x2="535.5" y2="461" stroke="#999" stroke-width="1.3" /><line x1="538.8" y1="437" x2="538.8" y2="461" stroke="#888" stroke-width="0.5" /><line x1="538.8" y1="437" x2="538.8" y2="442" stroke="#999" stroke-width="1.3" /><line x1="538.8" y1="456" x2="538.8" y2="461" stroke="#999" stroke-width="1.3" /><polyline points="460,440 466,460 472,440" fill="none" stroke="#888" stroke-width="0.6" /><polyline points="505,440 511,460 517,440" fill="none" stroke="#888" stroke-width="0.6" /><rect x="450.5" y="461" width="4.5" height="3.5" fill="#111" stroke="none" stroke-width="0.8" /><rect x="538" y="461" width="4.6" height="3.5" fill="#111" stroke="none" stroke-width="0.8" /><text x="443" y="450" font-size="4.64" text-anchor="middle" fill="#333" stroke="#333" stroke-width="0.12" font-family="Liberation Sans" transform="rotate(-90 443 450)">600</text><circle cx="498.3" cy="448.8" r="7.3" fill="none" stroke="#3449c2" stroke-width="1.4"/><text x="498.3" y="452.76" font-size="11" text-anchor="middle" fill="#e52222" stroke="#e52222" stroke-width="0.35" font-family="Liberation Sans">42</text><clipPath id="cw831"><rect x="127" y="596.8" width="26.6" height="20"/></clipPath><path d="M113.7,609.2 A5.3,4.8 0 0 1 124.3,609.2 M124.3,609.2 A5.3,4.8 0 0 1 134.9,609.2 M134.9,609.2 A5.3,4.8 0 0 1 145.5,609.2 M145.5,609.2 A5.3,4.8 0 0 1 156.1,609.2 " fill="none" stroke="#555" stroke-width="0.65" clip-path="url(#cw831)"/><clipPath id="cw833"><rect x="197" y="596.8" width="37.5" height="20"/></clipPath><path d="M185.6,609.2 A5.3,4.8 0 0 1 196.2,609.2 M196.2,609.2 A5.3,4.8 0 0 1 206.8,609.2 M206.8,609.2 A5.3,4.8 0 0 1 217.4,609.2 M217.4,609.2 A5.3,4.8 0 0 1 228,609.2 M228,609.2 A5.3,4.8 0 0 1 238.6,609.2 " fill="none" stroke="#555" stroke-width="0.65" clip-path="url(#cw833)"/><clipPath id="cw835"><rect x="280" y="596.8" width="25.5" height="20"/></clipPath><path d="M268.6,609.2 A5.3,4.8 0 0 1 279.2,609.2 M279.2,609.2 A5.3,4.8 0 0 1 289.8,609.2 M289.8,609.2 A5.3,4.8 0 0 1 300.4,609.2 M300.4,609.2 A5.3,4.8 0 0 1 311,609.2 " fill="none" stroke="#555" stroke-width="0.65" clip-path="url(#cw835)"/><clipPath id="cw837"><rect x="358.5" y="596.8" width="12.5" height="20"/></clipPath><path d="M347.1,609.2 A5.3,4.8 0 0 1 357.7,609.2 M357.7,609.2 A5.3,4.8 0 0 1 368.3,609.2 M368.3,609.2 A5.3,4.8 0 0 1 378.9,609.2 " fill="none" stroke="#555" stroke-width="0.65" clip-path="url(#cw837)"/><clipPath id="cw839"><rect x="376.5" y="596.8" width="27.5" height="20"/></clipPath><path d="M365.1,609.2 A5.3,4.8 0 0 1 375.7,609.2 M375.7,609.2 A5.3,4.8 0 0 1 386.3,609.2 M386.3,609.2 A5.3,4.8 0 0 1 396.9,609.2 M396.9,609.2 A5.3,4.8 0 0 1 407.5,609.2 " fill="none" stroke="#555" stroke-width="0.65" clip-path="url(#cw839)"/><clipPath id="cw841"><rect x="516" y="596.8" width="26.5" height="20"/></clipPath><path d="M504.6,609.2 A5.3,4.8 0 0 1 515.2,609.2 M515.2,609.2 A5.3,4.8 0 0 1 525.8,609.2 M525.8,609.2 A5.3,4.8 0 0 1 536.4,609.2 M536.4,609.2 A5.3,4.8 0 0 1 547,609.2 " fill="none" stroke="#555" stroke-width="0.65" clip-path="url(#cw841)"/><rect x="166.2" y="399.5" width="122.2" height="16.1" fill="#fff" stroke="#666" stroke-width="0.7" /><rect x="195" y="400" width="65" height="3" fill="none" stroke="#ccc" stroke-width="0.5" /><text x="226" y="413" font-size="5" text-anchor="middle" fill="#999" font-family="Liberation Sans" >TV</text><line x1="166" y1="418.5" x2="289" y2="418.5" stroke="#bbb" stroke-width="0.4" /><text x="226" y="420" font-size="4.64" text-anchor="middle" fill="#333" stroke="#333" stroke-width="0.12" font-family="Liberation Sans">3000</text><text x="286" y="405" font-size="4.64" text-anchor="middle" fill="#333" stroke="#333" stroke-width="0.12" font-family="Liberation Sans" transform="rotate(-90 286 405)">400</text><ellipse cx="301.1" cy="408.8" rx="10" ry="6.5" fill="#fff" stroke="#555" stroke-width="0.7"/><circle cx="296" cy="408.8" r="2" fill="none" stroke="#aaa" stroke-width="0.4"/><line x1="285" y1="418" x2="285" y2="440" stroke="#bbb" stroke-width="0.4" /><text x="283" y="430" font-size="4.64" text-anchor="middle" fill="#333" stroke="#333" stroke-width="0.12" font-family="Liberation Sans" transform="rotate(-90 283 430)">665</text><line x1="260" y1="405" x2="305" y2="440" stroke="#bbb" stroke-width="0.4" /><g transform="translate(147.8 412.8)"><path d="M0,-2 Q3.2,-7.7 0,-14 Q-3.2,-7.7 0,-2 Z" fill="#eef5ea" stroke="#6aa35a" stroke-width="0.55" transform="rotate(10)"/><path d="M0,-2 Q3.2,-6.33 0,-11.5 Q-3.2,-6.33 0,-2 Z" fill="#eef5ea" stroke="#6aa35a" stroke-width="0.55" transform="rotate(42.73)"/><path d="M0,-2 Q3.2,-7.7 0,-14 Q-3.2,-7.7 0,-2 Z" fill="#eef5ea" stroke="#6aa35a" stroke-width="0.55" transform="rotate(75.45)"/><path d="M0,-2 Q3.2,-6.33 0,-11.5 Q-3.2,-6.33 0,-2 Z" fill="#eef5ea" stroke="#6aa35a" stroke-width="0.55" transform="rotate(108.18)"/><path d="M0,-2 Q3.2,-7.7 0,-14 Q-3.2,-7.7 0,-2 Z" fill="#eef5ea" stroke="#6aa35a" stroke-width="0.55" transform="rotate(140.91)"/><path d="M0,-2 Q3.2,-6.33 0,-11.5 Q-3.2,-6.33 0,-2 Z" fill="#eef5ea" stroke="#6aa35a" stroke-width="0.55" transform="rotate(173.64)"/><path d="M0,-2 Q3.2,-7.7 0,-14 Q-3.2,-7.7 0,-2 Z" fill="#eef5ea" stroke="#6aa35a" stroke-width="0.55" transform="rotate(206.36)"/><path d="M0,-2 Q3.2,-6.33 0,-11.5 Q-3.2,-6.33 0,-2 Z" fill="#eef5ea" stroke="#6aa35a" stroke-width="0.55" transform="rotate(239.09)"/><path d="M0,-2 Q3.2,-7.7 0,-14 Q-3.2,-7.7 0,-2 Z" fill="#eef5ea" stroke="#6aa35a" stroke-width="0.55" transform="rotate(271.82)"/><path d="M0,-2 Q3.2,-6.33 0,-11.5 Q-3.2,-6.33 0,-2 Z" fill="#eef5ea" stroke="#6aa35a" stroke-width="0.55" transform="rotate(304.55)"/><path d="M0,-2 Q3.2,-7.7 0,-14 Q-3.2,-7.7 0,-2 Z" fill="#eef5ea" stroke="#6aa35a" stroke-width="0.55" transform="rotate(337.27)"/><circle cx="0" cy="0" r="4" fill="#4f8a3f"/><line x1="0" y1="0" x2="0" y2="-6" stroke="#2f6a25" stroke-width="0.6" transform="rotate(0)"/><line x1="0" y1="0" x2="0" y2="-6" stroke="#2f6a25" stroke-width="0.6" transform="rotate(45)"/><line x1="0" y1="0" x2="0" y2="-6" stroke="#2f6a25" stroke-width="0.6" transform="rotate(90)"/><line x1="0" y1="0" x2="0" y2="-6" stroke="#2f6a25" stroke-width="0.6" transform="rotate(135)"/><line x1="0" y1="0" x2="0" y2="-6" stroke="#2f6a25" stroke-width="0.6" transform="rotate(180)"/><line x1="0" y1="0" x2="0" y2="-6" stroke="#2f6a25" stroke-width="0.6" transform="rotate(225)"/><line x1="0" y1="0" x2="0" y2="-6" stroke="#2f6a25" stroke-width="0.6" transform="rotate(270)"/><line x1="0" y1="0" x2="0" y2="-6" stroke="#2f6a25" stroke-width="0.6" transform="rotate(315)"/></g><circle cx="126.4" cy="433.6" r="7.3" fill="#fff" stroke="#3449c2" stroke-width="2.2"/><circle cx="126.4" cy="433.6" r="7.3" fill="none" stroke="#fff" stroke-width="0.5"/><text x="126.4" y="437.56" font-size="11" text-anchor="middle" fill="#e52222" stroke="#e52222" stroke-width="0.35" font-family="Liberation Sans"></text><text x="119" y="437.5" font-size="10" fill="#e52222" stroke="#e52222" stroke-width="0.2" font-family="Liberation Sans" transform="translate(119 437.5) scale(0.85 1) translate(-119 -437.5)">Гипс</text><rect x="127" y="443.3" width="39" height="108.7" fill="#fff" stroke="#777" stroke-width="0.7" /><rect x="134.3" y="449.3" width="31.6" height="99.5" fill="#fff" stroke="#666" stroke-width="0.6" /><rect x="134.3" y="449.3" width="31.6" height="29.4" fill="#fff" stroke="#777" stroke-width="0.6" rx="3"/><rect x="134.3" y="478.7" width="31.6" height="41.1" fill="#fff" stroke="#777" stroke-width="0.6" rx="3"/><rect x="134.3" y="519.8" width="31.6" height="29" fill="#fff" stroke="#777" stroke-width="0.6" rx="3"/><rect x="134.3" y="449.3" width="5.5" height="99.5" fill="#fff" stroke="#888" stroke-width="0.5" /><rect x="139.8" y="449.3" width="26.1" height="7.4" fill="#fff" stroke="#333" stroke-width="0.7" rx="1.5"/><rect x="139.8" y="541.4" width="26.1" height="7.4" fill="#fff" stroke="#333" stroke-width="0.7" rx="1.5"/><ellipse cx="163.8" cy="453" rx="1.4" ry="3.2" fill="#333"/><ellipse cx="163.8" cy="545.1" rx="1.4" ry="3.2" fill="#333"/><polygon points="141,458 150,460 147,466 151,470 146,474 148,478 141,476 143,470 140,464" fill="#fff" stroke="#333" stroke-width="0.6" /><line x1="143" y1="463" x2="148" y2="462" stroke="#555" stroke-width="0.4" /><line x1="143" y1="469" x2="148" y2="468" stroke="#555" stroke-width="0.4" /><polygon points="141,516 147,520 144,526 151,530 147,536 152,540 143,540 145,533 140,527" fill="#fff" stroke="#333" stroke-width="0.6" /><line x1="143" y1="523" x2="148" y2="524" stroke="#555" stroke-width="0.4" /><line x1="144" y1="531" x2="149" y2="533" stroke="#555" stroke-width="0.4" /><rect x="246.5" y="443.3" width="39" height="108.7" fill="#fff" stroke="#777" stroke-width="0.7" /><rect x="246.6" y="449.3" width="31.6" height="99.5" fill="#fff" stroke="#666" stroke-width="0.6" /><rect x="246.6" y="449.3" width="31.6" height="29.4" fill="#fff" stroke="#777" stroke-width="0.6" rx="3"/><rect x="246.6" y="478.7" width="31.6" height="41.1" fill="#fff" stroke="#777" stroke-width="0.6" rx="3"/><rect x="246.6" y="519.8" width="31.6" height="29" fill="#fff" stroke="#777" stroke-width="0.6" rx="3"/><rect x="272.7" y="449.3" width="5.5" height="99.5" fill="#fff" stroke="#888" stroke-width="0.5" /><rect x="246.6" y="449.3" width="26.1" height="7.4" fill="#fff" stroke="#333" stroke-width="0.7" rx="1.5"/><rect x="246.6" y="541.4" width="26.1" height="7.4" fill="#fff" stroke="#333" stroke-width="0.7" rx="1.5"/><ellipse cx="248.7" cy="453" rx="1.4" ry="3.2" fill="#333"/><ellipse cx="248.7" cy="545.1" rx="1.4" ry="3.2" fill="#333"/><polygon points="271.5,458 262.5,460 265.5,466 261.5,470 266.5,474 264.5,478 271.5,476 269.5,470 272.5,464" fill="#fff" stroke="#333" stroke-width="0.6" /><line x1="269.5" y1="463" x2="264.5" y2="462" stroke="#555" stroke-width="0.4" /><line x1="269.5" y1="469" x2="264.5" y2="468" stroke="#555" stroke-width="0.4" /><polygon points="271.5,516 265.5,520 268.5,526 261.5,530 265.5,536 260.5,540 269.5,540 267.5,533 272.5,527" fill="#fff" stroke="#333" stroke-width="0.6" /><line x1="269.5" y1="523" x2="264.5" y2="524" stroke="#555" stroke-width="0.4" /><line x1="268.5" y1="531" x2="263.5" y2="533" stroke="#555" stroke-width="0.4" /><line x1="170" y1="443" x2="170" y2="555" stroke="#bbb" stroke-width="0.4" /><text x="168" y="499" font-size="4.64" text-anchor="middle" fill="#333" stroke="#333" stroke-width="0.12" font-family="Liberation Sans" transform="rotate(-90 168 499)">2740</text><line x1="288" y1="443" x2="288" y2="555" stroke="#bbb" stroke-width="0.4" /><text x="286" y="499" font-size="4.64" text-anchor="middle" fill="#333" stroke="#333" stroke-width="0.12" font-family="Liberation Sans" transform="rotate(-90 286 499)">2740</text><text x="150" y="483" font-size="4.64" text-anchor="middle" fill="#333" stroke="#333" stroke-width="0.12" font-family="Liberation Sans">900</text><rect x="176.1" y="460.3" width="61.5" height="81.9" fill="#fff" stroke="#666" stroke-width="0.7" /><ellipse cx="216.4" cy="498.8" rx="39.5" ry="14.5" fill="#fff" stroke="#333" stroke-width="0.7" transform="rotate(-68 216.4 498.8)"/><circle cx="208" cy="519" r="6" fill="none" stroke="#ccc" stroke-width="0.5"/><circle cx="215" cy="512" r="3" fill="none" stroke="#ccc" stroke-width="0.5"/><text x="207" y="464.5" font-size="4.64" text-anchor="middle" fill="#333" stroke="#333" stroke-width="0.12" font-family="Liberation Sans">1500</text><text x="190" y="502" font-size="4.64" text-anchor="middle" fill="#333" stroke="#333" stroke-width="0.12" font-family="Liberation Sans" transform="rotate(-90 190 502)">2000</text><line x1="198" y1="480" x2="185" y2="530" stroke="#bbb" stroke-width="0.4" /><text x="197" y="491" font-size="4.64" text-anchor="middle" fill="#333" stroke="#333" stroke-width="0.12" font-family="Liberation Sans" transform="rotate(-70 197 491)">1800</text><text x="226" y="485" font-size="4.64" text-anchor="middle" fill="#333" stroke="#333" stroke-width="0.12" font-family="Liberation Sans" transform="rotate(30 226 485)">730</text><text x="0" y="0" font-size="8.2" fill="#222" text-anchor="start" font-family="Liberation Sans"  stroke="#222" stroke-width="0.15" transform="translate(187.4 456.8) scale(0.86 1)">Гостиная</text><line x1="293" y1="462" x2="313" y2="462" stroke="#bbb" stroke-width="0.4" /><line x1="293" y1="534" x2="313" y2="534" stroke="#bbb" stroke-width="0.4" /><line x1="311" y1="462" x2="311" y2="534" stroke="#bbb" stroke-width="0.4" /><text x="300" y="467" font-size="4.64" text-anchor="middle" fill="#333" stroke="#333" stroke-width="0.12" font-family="Liberation Sans">490</text><text x="309" y="499" font-size="4.64" text-anchor="middle" fill="#333" stroke="#333" stroke-width="0.12" font-family="Liberation Sans" transform="rotate(-90 309 499)">2110</text><rect x="127" y="557.4" width="22.9" height="45.4" fill="#fff" stroke="#777" stroke-width="0.6" /><text x="137" y="562" font-size="4.64" text-anchor="middle" fill="#333" stroke="#333" stroke-width="0.12" font-family="Liberation Sans">560</text><text x="137" y="578" font-size="4.64" text-anchor="middle" fill="#333" stroke="#333" stroke-width="0.12" font-family="Liberation Sans" transform="rotate(-90 137 578)">1180</text><polygon points="150,566 162,571 158,583 146,578" fill="#fff" stroke="#bbb" stroke-width="0.5" /><ellipse cx="233" cy="557" rx="4.5" ry="5.5" fill="none" stroke="#666" stroke-width="0.6"/><ellipse cx="276" cy="565" rx="3" ry="3.5" fill="none" stroke="#666" stroke-width="0.6"/><ellipse cx="279" cy="565" rx="2.5" ry="4" fill="none" stroke="#888" stroke-width="0.5"/><line x1="95.8" y1="303" x2="95.8" y2="609.5" stroke="#bbb" stroke-width="0.4" /><text x="94" y="345.8" font-size="4.64" text-anchor="middle" fill="#333" stroke="#333" stroke-width="0.12" font-family="Liberation Sans" transform="rotate(-90 94 345.8)">2110</text><text x="94" y="503" font-size="4.64" text-anchor="middle" fill="#333" stroke="#333" stroke-width="0.12" font-family="Liberation Sans" transform="rotate(-90 94 503)">5170</text><line x1="90" y1="389.6" x2="126" y2="389.6" stroke="#bbb" stroke-width="0.4" /><line x1="90" y1="400" x2="126" y2="400" stroke="#bbb" stroke-width="0.4" /><circle cx="262.4" cy="409.4" r="7.3" fill="none" stroke="#3449c2" stroke-width="1.4"/><text x="262.4" y="413.36" font-size="11" text-anchor="middle" fill="#e52222" stroke="#e52222" stroke-width="0.35" font-family="Liberation Sans">18</text><circle cx="176.8" cy="446.9" r="7.3" fill="none" stroke="#3449c2" stroke-width="1.4"/><text x="176.8" y="450.86" font-size="11" text-anchor="middle" fill="#e52222" stroke="#e52222" stroke-width="0.35" font-family="Liberation Sans">26</text><circle cx="128.5" cy="487.2" r="7.3" fill="none" stroke="#3449c2" stroke-width="1.4"/><text x="128.5" y="491.16" font-size="11" text-anchor="middle" fill="#e52222" stroke="#e52222" stroke-width="0.35" font-family="Liberation Sans">28</text><circle cx="152.8" cy="492" r="7.3" fill="none" stroke="#3449c2" stroke-width="1.4"/><text x="152.8" y="495.96" font-size="11" text-anchor="middle" fill="#e52222" stroke="#e52222" stroke-width="0.35" font-family="Liberation Sans">19</text><circle cx="210.7" cy="496.3" r="7.3" fill="#fff" stroke="#3449c2" stroke-width="2.2"/><circle cx="210.7" cy="496.3" r="7.3" fill="none" stroke="#fff" stroke-width="0.5"/><text x="210.7" y="500.26" font-size="11" text-anchor="middle" fill="#e52222" stroke="#e52222" stroke-width="0.35" font-family="Liberation Sans">21</text><circle cx="265.8" cy="492" r="7.3" fill="none" stroke="#3449c2" stroke-width="1.4"/><text x="265.8" y="495.96" font-size="11" text-anchor="middle" fill="#e52222" stroke="#e52222" stroke-width="0.35" font-family="Liberation Sans">20</text><circle cx="295.4" cy="483.6" r="7.3" fill="#fff" stroke="#3449c2" stroke-width="2.2"/><circle cx="295.4" cy="483.6" r="7.3" fill="none" stroke="#fff" stroke-width="0.5"/><text x="295.4" y="487.56" font-size="11" text-anchor="middle" fill="#e52222" stroke="#e52222" stroke-width="0.35" font-family="Liberation Sans">22</text><circle cx="128.5" cy="514" r="7.3" fill="none" stroke="#3449c2" stroke-width="1.4"/><text x="128.5" y="517.96" font-size="11" text-anchor="middle" fill="#e52222" stroke="#e52222" stroke-width="0.35" font-family="Liberation Sans">29</text><circle cx="228.5" cy="526.4" r="7.3" fill="none" stroke="#3449c2" stroke-width="1.4"/><text x="228.5" y="530.36" font-size="11" text-anchor="middle" fill="#e52222" stroke="#e52222" stroke-width="0.35" font-family="Liberation Sans">31</text><circle cx="176.6" cy="554.7" r="7.3" fill="none" stroke="#3449c2" stroke-width="1.4"/><text x="176.6" y="558.66" font-size="11" text-anchor="middle" fill="#e52222" stroke="#e52222" stroke-width="0.35" font-family="Liberation Sans">25</text><circle cx="235.2" cy="554.7" r="7.3" fill="none" stroke="#3449c2" stroke-width="1.4"/><text x="235.2" y="558.66" font-size="11" text-anchor="middle" fill="#e52222" stroke="#e52222" stroke-width="0.35" font-family="Liberation Sans">27</text><circle cx="284" cy="565.5" r="7.3" fill="none" stroke="#3449c2" stroke-width="1.4"/><text x="284" y="569.46" font-size="11" text-anchor="middle" fill="#e52222" stroke="#e52222" stroke-width="0.35" font-family="Liberation Sans">30</text><circle cx="150.7" cy="575" r="7.3" fill="none" stroke="#3449c2" stroke-width="1.4"/><text x="150.7" y="578.96" font-size="11" text-anchor="middle" fill="#e52222" stroke="#e52222" stroke-width="0.35" font-family="Liberation Sans">24</text><circle cx="137.8" cy="591.1" r="7.3" fill="none" stroke="#3449c2" stroke-width="1.4"/><text x="137.8" y="595.06" font-size="11" text-anchor="middle" fill="#e52222" stroke="#e52222" stroke-width="0.35" font-family="Liberation Sans">23</text><rect x="445.4" y="474.3" width="81" height="28.7" fill="#fff" stroke="#666" stroke-width="0.7" /><line x1="445" y1="471" x2="526" y2="471" stroke="#bbb" stroke-width="0.4" /><text x="466.8" y="470" font-size="4.64" text-anchor="middle" fill="#333" stroke="#333" stroke-width="0.12" font-family="Liberation Sans">500</text><text x="496.8" y="473" font-size="4.64" text-anchor="middle" fill="#333" stroke="#333" stroke-width="0.12" font-family="Liberation Sans">2800</text><text x="485" y="482" font-size="4.64" text-anchor="middle" fill="#333" stroke="#333" stroke-width="0.12" font-family="Liberation Sans">2800</text><text x="469" y="490" font-size="4.64" text-anchor="middle" fill="#333" stroke="#333" stroke-width="0.12" font-family="Liberation Sans" transform="rotate(-90 469 490)">720</text><rect x="461.5" y="505.2" width="62.8" height="63.6" fill="#fff" stroke="#888" stroke-width="0.8" /><polygon points="519,505.2 524.3,505.2 524.3,510" fill="none" stroke="#888" stroke-width="0.5" /><polygon points="519,568.8 524.3,568.8 524.3,564" fill="none" stroke="#888" stroke-width="0.5" /><rect x="524.3" y="507" width="16.1" height="28" fill="none" stroke="#aaa" stroke-width="0.6" /><rect x="524.3" y="538" width="16.1" height="28" fill="none" stroke="#aaa" stroke-width="0.6" /><rect x="441.9" y="507.3" width="19.6" height="61" fill="#fff" stroke="#aaa" stroke-width="0.6" /><line x1="441" y1="545" x2="540" y2="545" stroke="#ccc" stroke-width="0.4" /><text x="451" y="547" font-size="4.64" text-anchor="middle" fill="#333" stroke="#333" stroke-width="0.12" font-family="Liberation Sans">460</text><text x="502" y="547" font-size="4.64" text-anchor="middle" fill="#333" stroke="#333" stroke-width="0.12" font-family="Liberation Sans">2000</text><text x="462" y="538" font-size="4.64" text-anchor="middle" fill="#333" stroke="#333" stroke-width="0.12" font-family="Liberation Sans" transform="rotate(-90 462 538)">1400</text><text x="475" y="537" font-size="4.64" text-anchor="middle" fill="#333" stroke="#333" stroke-width="0.12" font-family="Liberation Sans" transform="rotate(-90 475 537)">1800</text><line x1="540" y1="470" x2="540" y2="610" stroke="#ccc" stroke-width="0.4" /><text x="0" y="0" font-size="8.2" fill="#222" text-anchor="start" font-family="Liberation Sans"  stroke="#222" stroke-width="0.15" transform="translate(438.7 580.7) scale(0.86 1)">Спальная комната_ 2</text><text x="398" y="510" font-size="8" text-anchor="middle" fill="#333" font-family="Liberation Serif" >TV</text><rect x="390.3" y="491.7" width="13.7" height="28.3" fill="none" stroke="#ccc" stroke-width="0.5" /><text x="397.5" y="498" font-size="4.64" text-anchor="middle" fill="#333" stroke="#333" stroke-width="0.12" font-family="Liberation Sans">350</text><text x="405" y="527" font-size="4.64" text-anchor="middle" fill="#333" stroke="#333" stroke-width="0.12" font-family="Liberation Sans" transform="rotate(-90 405 527)">1460</text><line x1="389" y1="523" x2="434" y2="498" stroke="#ccc" stroke-width="0.5" /><line x1="389" y1="548" x2="434" y2="560" stroke="#ccc" stroke-width="0.5" /><line x1="390" y1="420" x2="398" y2="420" stroke="#ccc" stroke-width="0.4" /><rect x="390" y="404" width="8" height="44" fill="none" stroke="#ddd" stroke-width="0.4" /><rect x="379" y="484" width="6" height="24" fill="none" stroke="#ccc" stroke-width="0.4" /><line x1="378" y1="455" x2="378" y2="540" stroke="#ccc" stroke-width="0.4" /><line x1="372" y1="455" x2="372" y2="540" stroke="#ccc" stroke-width="0.4" /><text x="377" y="468" font-size="4.64" text-anchor="middle" fill="#333" stroke="#333" stroke-width="0.12" font-family="Liberation Sans">350</text><text x="377" y="510" font-size="4.64" text-anchor="middle" fill="#333" stroke="#333" stroke-width="0.12" font-family="Liberation Sans" transform="rotate(-90 377 510)">2500</text><text x="411" y="472" font-size="4.64" text-anchor="middle" fill="#333" stroke="#333" stroke-width="0.12" font-family="Liberation Sans" transform="rotate(-45 411 472)">Ø300</text><rect x="376.2" y="556" width="9.9" height="44.5" fill="none" stroke="#999" stroke-width="0.5" /><polygon points="392,573 404,576 401,590 389,587" fill="#fff" stroke="#bbb" stroke-width="0.5" /><text x="385" y="575" font-size="4.64" text-anchor="middle" fill="#333" stroke="#333" stroke-width="0.12" font-family="Liberation Sans" transform="rotate(-90 385 575)">1180</text><text x="389" y="575" font-size="4.64" text-anchor="middle" fill="#333" stroke="#333" stroke-width="0.12" font-family="Liberation Sans" transform="rotate(-90 389 575)">1090</text><text x="387" y="598" font-size="4.64" text-anchor="middle" fill="#333" stroke="#333" stroke-width="0.12" font-family="Liberation Sans">500</text><path d="M327,583 L352,557 A21,21 0 0 1 352,599 Z" fill="#fff" stroke="#444" stroke-width="0.7" /><path d="M333.5,582.5 L352,563 A15.5,15.5 0 0 1 352,594 Z" fill="none" stroke="#555" stroke-width="0.6" /><circle cx="351" cy="547.5" r="9.3" fill="none" stroke="#888" stroke-width="0.6"/><circle cx="402" cy="480.5" r="7.3" fill="none" stroke="#3449c2" stroke-width="1.4"/><text x="402" y="484.46" font-size="11" text-anchor="middle" fill="#e52222" stroke="#e52222" stroke-width="0.35" font-family="Liberation Sans">43</text><circle cx="374.8" cy="522.6" r="7.3" fill="#fff" stroke="#3449c2" stroke-width="2.2"/><circle cx="374.8" cy="522.6" r="7.3" fill="none" stroke="#fff" stroke-width="0.5"/><text x="374.8" y="526.56" font-size="11" text-anchor="middle" fill="#e52222" stroke="#e52222" stroke-width="0.35" font-family="Liberation Sans">34</text><circle cx="401.6" cy="536" r="7.3" fill="none" stroke="#3449c2" stroke-width="1.4"/><text x="401.6" y="539.96" font-size="11" text-anchor="middle" fill="#e52222" stroke="#e52222" stroke-width="0.35" font-family="Liberation Sans">37</text><circle cx="451.8" cy="529.3" r="7.3" fill="none" stroke="#3449c2" stroke-width="1.4"/><text x="451.8" y="533.26" font-size="11" text-anchor="middle" fill="#e52222" stroke="#e52222" stroke-width="0.35" font-family="Liberation Sans">38</text><circle cx="502.3" cy="524" r="7.3" fill="none" stroke="#3449c2" stroke-width="1.4"/><text x="502.3" y="527.96" font-size="11" text-anchor="middle" fill="#e52222" stroke="#e52222" stroke-width="0.35" font-family="Liberation Sans">39</text><circle cx="396.2" cy="561.5" r="7.3" fill="none" stroke="#3449c2" stroke-width="1.4"/><text x="396.2" y="565.46" font-size="11" text-anchor="middle" fill="#e52222" stroke="#e52222" stroke-width="0.35" font-family="Liberation Sans">35</text><circle cx="378.8" cy="568.8" r="7.3" fill="none" stroke="#3449c2" stroke-width="1.4"/><text x="378.8" y="572.76" font-size="11" text-anchor="middle" fill="#e52222" stroke="#e52222" stroke-width="0.35" font-family="Liberation Sans">45</text><circle cx="399.7" cy="581.7" r="7.3" fill="none" stroke="#3449c2" stroke-width="1.4"/><text x="399.7" y="585.66" font-size="11" text-anchor="middle" fill="#e52222" stroke="#e52222" stroke-width="0.35" font-family="Liberation Sans">36</text><circle cx="531" cy="593.8" r="7.3" fill="none" stroke="#3449c2" stroke-width="1.4"/><text x="531" y="597.76" font-size="11" text-anchor="middle" fill="#e52222" stroke="#e52222" stroke-width="0.35" font-family="Liberation Sans">40</text><circle cx="521.9" cy="468.4" r="7.3" fill="none" stroke="#3449c2" stroke-width="1.4"/><text x="521.9" y="472.36" font-size="11" text-anchor="middle" fill="#e52222" stroke="#e52222" stroke-width="0.35" font-family="Liberation Sans">41</text><circle cx="531" cy="486.9" r="7.3" fill="none" stroke="#3449c2" stroke-width="1.4"/><text x="531" y="490.86" font-size="11" text-anchor="middle" fill="#e52222" stroke="#e52222" stroke-width="0.35" font-family="Liberation Sans">40</text><circle cx="498.3" cy="492.6" r="7.3" fill="none" stroke="#3449c2" stroke-width="1.4"/><text x="498.3" y="496.56" font-size="11" text-anchor="middle" fill="#e52222" stroke="#e52222" stroke-width="0.35" font-family="Liberation Sans">44</text><circle cx="351" cy="547.5" r="7.3" fill="none" stroke="#3449c2" stroke-width="1.4"/><text x="351" y="551.46" font-size="11" text-anchor="middle" fill="#e52222" stroke="#e52222" stroke-width="0.35" font-family="Liberation Sans">33</text><circle cx="351" cy="580" r="7.3" fill="none" stroke="#3449c2" stroke-width="1.4"/><text x="351" y="583.96" font-size="11" text-anchor="middle" fill="#e52222" stroke="#e52222" stroke-width="0.35" font-family="Liberation Sans">32</text><text x="0" y="0" font-size="9" fill="#222" text-anchor="start" font-family="Liberation Sans"  stroke="#222" stroke-width="0.04" transform="translate(248.6 73.5) scale(0.92 1)">Внутренние</text><text x="0" y="0" font-size="9" fill="#222" text-anchor="start" font-family="Liberation Sans"  stroke="#222" stroke-width="0.04" transform="translate(248.6 83.5) scale(0.92 1)">стеклопакеты</text><polyline points="248,76 303.5,76 404.5,92 404.5,125" fill="none" stroke="#444" stroke-width="0.6" /><line x1="303.5" y1="76" x2="303.5" y2="125" stroke="#444" stroke-width="0.6" /><circle cx="303.5" cy="125" r="0.9" fill="#222"/><circle cx="404.5" cy="125" r="0.9" fill="#222"/><text x="0" y="0" font-size="9" fill="#222" text-anchor="start" font-family="Liberation Sans"  stroke="#222" stroke-width="0.04" transform="translate(392 73.5) scale(0.92 1)">Перегородка</text><text x="0" y="0" font-size="9" fill="#222" text-anchor="start" font-family="Liberation Sans"  stroke="#222" stroke-width="0.04" transform="translate(392 83.5) scale(0.92 1)">декоративная</text><polyline points="391,86.5 448.5,86.5 448.5,133" fill="none" stroke="#444" stroke-width="0.6" /><text x="0" y="0" font-size="9" fill="#222" text-anchor="start" font-family="Liberation Sans"  stroke="#222" stroke-width="0.04" transform="translate(550 73.5) scale(0.92 1)">Электрощиток</text><line x1="550" y1="76" x2="608" y2="76" stroke="#444" stroke-width="0.6" /><text x="0" y="0" font-size="9" fill="#222" text-anchor="start" font-family="Liberation Sans"  stroke="#222" stroke-width="0.04" transform="translate(621.8 292.5) scale(0.92 1)">Существующая</text><text x="0" y="0" font-size="9" fill="#222" text-anchor="start" font-family="Liberation Sans"  stroke="#222" stroke-width="0.04" transform="translate(621.8 302.5) scale(0.92 1)">балка</text><polyline points="696.4,293.8 617.6,293.8 617.6,335 437,335" fill="none" stroke="#444" stroke-width="0.6" /><circle cx="701" cy="160" r="7.3" fill="#fff" stroke="#3449c2" stroke-width="2.2"/><circle cx="701" cy="160" r="7.3" fill="none" stroke="#fff" stroke-width="0.5"/><text x="701" y="163.96" font-size="11" text-anchor="middle" fill="#e52222" stroke="#e52222" stroke-width="0.35" font-family="Liberation Sans">1</text><circle cx="701" cy="189" r="7.3" fill="none" stroke="#3449c2" stroke-width="1.4"/><text x="701" y="192.96" font-size="11" text-anchor="middle" fill="#e52222" stroke="#e52222" stroke-width="0.35" font-family="Liberation Sans">2</text><text x="0" y="0" font-size="9" fill="#222" text-anchor="start" font-family="Liberation Sans"  stroke="#222" stroke-width="0.04" transform="translate(724.5 163.5) scale(0.92 1)">заказные изделия</text><text x="0" y="0" font-size="9" fill="#222" text-anchor="start" font-family="Liberation Sans"  stroke="#222" stroke-width="0.04" transform="translate(725 192.5) scale(0.92 1)">мебель готовая</text><rect x="695.5" y="321.5" width="56" height="15.2" fill="#fff" stroke="#999" stroke-width="0.6" /><circle cx="711" cy="324" r="0.6" fill="#ccc"/><circle cx="724" cy="325" r="0.6" fill="#ccc"/><circle cx="738" cy="329" r="0.6" fill="#ccc"/><circle cx="720" cy="333" r="0.6" fill="#ccc"/><circle cx="705" cy="331" r="0.6" fill="#ccc"/><circle cx="743" cy="323" r="0.6" fill="#ccc"/><text x="0" y="0" font-size="9" fill="#222" text-anchor="start" font-family="Liberation Sans"  stroke="#222" stroke-width="0.04" transform="translate(762.7 325.3) scale(0.9 1)">подоконники и ступень на балкон</text><text x="0" y="0" font-size="9" fill="#222" text-anchor="start" font-family="Liberation Sans"  stroke="#222" stroke-width="0.04" transform="translate(762.7 335.4) scale(0.9 1)">искусственный камень</text><text x="0" y="0" font-size="9" fill="#222" text-anchor="start" font-family="Liberation Sans"  stroke="#222" stroke-width="0.04" transform="translate(762.7 345.5) scale(0.9 1)">(под мрамор)</text><text x="0" y="0" font-size="9" fill="#222" text-anchor="start" font-family="Liberation Sans"  stroke="#222" stroke-width="0.04" transform="translate(762.7 355.6) scale(0.9 1)">без учёта кухонной столешницы</text><text x="0" y="0" font-size="9" fill="#222" text-anchor="start" font-family="Liberation Sans"  stroke="#222" stroke-width="0.04" transform="translate(822.7 345.4) scale(0.9 1)">3м.кв.</text><rect x="695.5" y="370" width="56" height="15.5" fill="url(#hatch)" stroke="#999" stroke-width="0.6" /><text x="0" y="0" font-size="9" fill="#222" text-anchor="start" font-family="Liberation Sans"  stroke="#222" stroke-width="0.04" transform="translate(762.7 373.8) scale(0.92 1)">подоконники</text><text x="0" y="0" font-size="9" fill="#222" text-anchor="start" font-family="Liberation Sans"  stroke="#222" stroke-width="0.04" transform="translate(762.7 383.9) scale(0.92 1)">массив дерева 6см</text><text x="0" y="0" font-size="9" fill="#222" text-anchor="start" font-family="Liberation Sans"  stroke="#222" stroke-width="0.04" transform="translate(856 383.9) scale(0.92 1)">1,7м.кв.</text><text x="0" y="0" font-size="9" fill="#222" text-anchor="start" font-family="Liberation Sans"  stroke="#222" stroke-width="0.04" transform="translate(686.5 549.5) scale(0.92 1)">Смотри подробный план мебели и оборудлвания на листах:</text><text x="0" y="0" font-size="9" fill="#222" text-anchor="start" font-family="Liberation Sans"  stroke="#222" stroke-width="0.04" transform="translate(686.5 559.45) scale(0.92 1)">Развёртка санузла_1,</text><text x="0" y="0" font-size="9" fill="#222" text-anchor="start" font-family="Liberation Sans"  stroke="#222" stroke-width="0.04" transform="translate(686.5 569.4) scale(0.92 1)">Развертка санузла_2,</text><text x="0" y="0" font-size="9" fill="#222" text-anchor="start" font-family="Liberation Sans"  stroke="#222" stroke-width="0.04" transform="translate(686.5 579.35) scale(0.92 1)">Развёртка санузла общего</text><rect x="686.4" y="598.5" width="277.1" height="82.5" fill="none" stroke="#333" stroke-width="0.9" /><line x1="686.4" y1="605.8" x2="783.8" y2="605.8" stroke="#999" stroke-width="1.0" /><line x1="686.4" y1="613.3" x2="783.8" y2="613.3" stroke="#333" stroke-width="0.8" /><line x1="686.4" y1="620.8" x2="783.8" y2="620.8" stroke="#999" stroke-width="1.0" /><line x1="686.4" y1="628.4" x2="783.8" y2="628.4" stroke="#333" stroke-width="0.8" /><line x1="686.4" y1="635.9" x2="783.8" y2="635.9" stroke="#999" stroke-width="1.0" /><line x1="686.4" y1="643.4" x2="783.8" y2="643.4" stroke="#333" stroke-width="0.8" /><line x1="686.4" y1="651" x2="783.8" y2="651" stroke="#999" stroke-width="1.0" /><line x1="686.4" y1="658.5" x2="783.8" y2="658.5" stroke="#333" stroke-width="0.8" /><line x1="686.4" y1="666.2" x2="783.8" y2="666.2" stroke="#999" stroke-width="1.0" /><line x1="686.4" y1="673.6" x2="783.8" y2="673.6" stroke="#333" stroke-width="0.8" /><line x1="701.6" y1="598.5" x2="701.6" y2="643.4" stroke="#333" stroke-width="0.8" /><line x1="731.5" y1="598.5" x2="731.5" y2="643.4" stroke="#333" stroke-width="0.8" /><line x1="716.4" y1="598.5" x2="716.4" y2="681" stroke="#333" stroke-width="0.8" /><line x1="746.6" y1="598.5" x2="746.6" y2="681" stroke="#333" stroke-width="0.8" /><line x1="769" y1="598.5" x2="769" y2="681" stroke="#333" stroke-width="0.8" /><line x1="769" y1="598.5" x2="769" y2="681" stroke="#999" stroke-width="1.0" /><line x1="783.8" y1="598.5" x2="783.8" y2="681" stroke="#999" stroke-width="1.2" /><line x1="783.8" y1="613.6" x2="963.5" y2="613.6" stroke="#333" stroke-width="0.8" /><line x1="783.8" y1="636.3" x2="963.5" y2="636.3" stroke="#999" stroke-width="1.0" /><line x1="888.3" y1="643.2" x2="963.5" y2="643.2" stroke="#333" stroke-width="0.7" /><line x1="783.8" y1="651" x2="963.5" y2="651" stroke="#999" stroke-width="1.0" /><line x1="888.3" y1="636.3" x2="888.3" y2="681" stroke="#333" stroke-width="0.8" /><line x1="911.6" y1="636.3" x2="911.6" y2="651" stroke="#333" stroke-width="0.8" /><line x1="933.6" y1="636.3" x2="933.6" y2="651" stroke="#333" stroke-width="0.8" /><text x="694" y="640.5" font-size="4.8" text-anchor="middle" fill="#222" font-family="Liberation Sans" >Изм.</text><text x="709" y="640.5" font-size="4.8" text-anchor="middle" fill="#222" font-family="Liberation Sans" >Кол.уч.</text><text x="724" y="640.5" font-size="4.8" text-anchor="middle" fill="#222" font-family="Liberation Sans" >Лист</text><text x="739" y="640.5" font-size="4.8" text-anchor="middle" fill="#222" font-family="Liberation Sans" >N док</text><text x="757.8" y="640.5" font-size="4.8" text-anchor="middle" fill="#222" font-family="Liberation Sans" >Подп.</text><text x="776.4" y="640.5" font-size="4.8" text-anchor="middle" fill="#222" font-family="Liberation Sans" >Дата</text><text x="687" y="649" font-size="4.8" text-anchor="start" fill="#222" font-family="Liberation Sans" >Архитектор</text><text x="717" y="649" font-size="4.8" text-anchor="start" fill="#222" font-family="Liberation Sans" >Косарев А.В.</text><text x="690" y="656.5" font-size="4.8" text-anchor="start" fill="#222" font-family="Liberation Sans" >Дизайнер</text><text x="717" y="656.5" font-size="4.8" text-anchor="start" fill="#222" font-family="Liberation Sans" >Бабичева Д.П.</text><text x="789.6" y="623.5" font-size="4.8" text-anchor="start" fill="#222" font-family="Liberation Sans" >Частная квартира</text><text x="789.6" y="629.5" font-size="4.8" text-anchor="start" fill="#222" font-family="Liberation Sans" >г.Москва, пер.Благовещенский, 8</text><text x="899.9" y="641.7" font-size="4.8" text-anchor="middle" fill="#222" font-family="Liberation Sans" >стадия</text><text x="922.6" y="641.7" font-size="4.8" text-anchor="middle" fill="#222" font-family="Liberation Sans" >лист</text><text x="948.5" y="641.7" font-size="4.8" text-anchor="middle" fill="#222" font-family="Liberation Sans" >листов</text><text x="0" y="0" font-size="7.2" fill="#222" text-anchor="start" font-family="Liberation Sans"  stroke="#222" stroke-width="0.04" transform="translate(794.8 664) scale(0.864 1)">План мебели и оборудования</text><text x="896" y="676.5" font-size="5.5" text-anchor="start" fill="#222" font-family="Liberation Sans" >ООО  "АВК"</text><line x1="896" y1="678" x2="926" y2="678" stroke="#222" stroke-width="0.5" /><polygon points="925.8,677.6 925.8,668 935,664.8 942,667.5 950,664 958.8,668 958.8,677.6" fill="#000" stroke="none" stroke-width="0.8" />
</svg></body></html>
